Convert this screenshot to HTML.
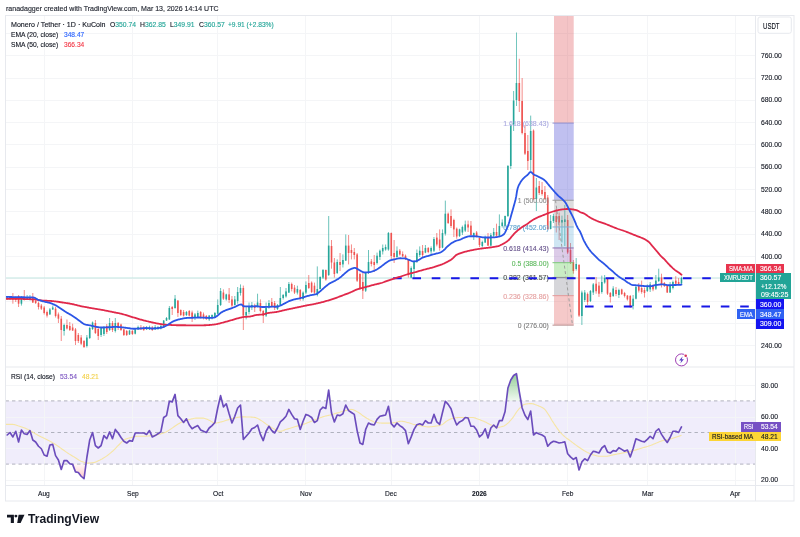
<!DOCTYPE html>
<html><head><meta charset="utf-8"><title>XMRUSDT chart</title>
<style>
html,body{margin:0;padding:0;background:#fff;}
body{width:800px;height:537px;position:relative;overflow:hidden;font-family:"Liberation Sans",sans-serif;}
.t{position:absolute;white-space:nowrap;font-family:"Liberation Sans",sans-serif;transform-origin:0 50%;-webkit-text-stroke:0.14px currentColor;}
.lb{position:absolute;white-space:nowrap;font-size:8px;line-height:9.6px;box-sizing:border-box;overflow:hidden;font-family:"Liberation Sans",sans-serif;}
</style></head><body>
<svg width="800" height="537" viewBox="0 0 800 537" style="position:absolute;left:0;top:0">
<rect x="5.5" y="400.90" width="750.00" height="63.20" fill="#f0edfb"/>
<line x1="44.5" y1="15.5" x2="44.5" y2="485.5" stroke="#f4f5f7" stroke-width="1"/>
<line x1="132.5" y1="15.5" x2="132.5" y2="485.5" stroke="#f4f5f7" stroke-width="1"/>
<line x1="217.5" y1="15.5" x2="217.5" y2="485.5" stroke="#f4f5f7" stroke-width="1"/>
<line x1="305.5" y1="15.5" x2="305.5" y2="485.5" stroke="#f4f5f7" stroke-width="1"/>
<line x1="391.5" y1="15.5" x2="391.5" y2="485.5" stroke="#f4f5f7" stroke-width="1"/>
<line x1="479.5" y1="15.5" x2="479.5" y2="485.5" stroke="#f4f5f7" stroke-width="1"/>
<line x1="567.5" y1="15.5" x2="567.5" y2="485.5" stroke="#f4f5f7" stroke-width="1"/>
<line x1="647.5" y1="15.5" x2="647.5" y2="485.5" stroke="#f4f5f7" stroke-width="1"/>
<line x1="735.5" y1="15.5" x2="735.5" y2="485.5" stroke="#f4f5f7" stroke-width="1"/>
<line x1="5.5" y1="345.5" x2="755.5" y2="345.5" stroke="#f4f5f7" stroke-width="1"/>
<line x1="5.5" y1="323.5" x2="755.5" y2="323.5" stroke="#f4f5f7" stroke-width="1"/>
<line x1="5.5" y1="301.5" x2="755.5" y2="301.5" stroke="#f4f5f7" stroke-width="1"/>
<line x1="5.5" y1="278.5" x2="755.5" y2="278.5" stroke="#f4f5f7" stroke-width="1"/>
<line x1="5.5" y1="256.5" x2="755.5" y2="256.5" stroke="#f4f5f7" stroke-width="1"/>
<line x1="5.5" y1="234.5" x2="755.5" y2="234.5" stroke="#f4f5f7" stroke-width="1"/>
<line x1="5.5" y1="211.5" x2="755.5" y2="211.5" stroke="#f4f5f7" stroke-width="1"/>
<line x1="5.5" y1="189.5" x2="755.5" y2="189.5" stroke="#f4f5f7" stroke-width="1"/>
<line x1="5.5" y1="167.5" x2="755.5" y2="167.5" stroke="#f4f5f7" stroke-width="1"/>
<line x1="5.5" y1="144.5" x2="755.5" y2="144.5" stroke="#f4f5f7" stroke-width="1"/>
<line x1="5.5" y1="122.5" x2="755.5" y2="122.5" stroke="#f4f5f7" stroke-width="1"/>
<line x1="5.5" y1="100.5" x2="755.5" y2="100.5" stroke="#f4f5f7" stroke-width="1"/>
<line x1="5.5" y1="78.5" x2="755.5" y2="78.5" stroke="#f4f5f7" stroke-width="1"/>
<line x1="5.5" y1="55.5" x2="755.5" y2="55.5" stroke="#f4f5f7" stroke-width="1"/>
<line x1="5.5" y1="33.5" x2="755.5" y2="33.5" stroke="#f4f5f7" stroke-width="1"/>
<line x1="5.5" y1="480.5" x2="755.5" y2="480.5" stroke="#f4f5f7" stroke-width="1"/>
<line x1="5.5" y1="448.5" x2="755.5" y2="448.5" stroke="#f4f5f7" stroke-width="1"/>
<line x1="5.5" y1="417.5" x2="755.5" y2="417.5" stroke="#f4f5f7" stroke-width="1"/>
<line x1="5.5" y1="385.5" x2="755.5" y2="385.5" stroke="#f4f5f7" stroke-width="1"/>
<line x1="5.5" y1="277.98" x2="755.5" y2="277.98" stroke="#c3e6e1" stroke-width="1"/>
<line x1="7.20" y1="296.50" x2="7.20" y2="300.00" stroke="#26a69a" stroke-width="0.9" opacity="0.75"/>
<rect x="6.40" y="297.50" width="1.6" height="1.00" fill="#26a69a"/>
<line x1="10.04" y1="296.00" x2="10.04" y2="300.00" stroke="#26a69a" stroke-width="0.9" opacity="0.75"/>
<rect x="9.24" y="297.00" width="1.6" height="2.00" fill="#26a69a"/>
<line x1="12.89" y1="293.00" x2="12.89" y2="303.70" stroke="#ef5350" stroke-width="0.9" opacity="0.75"/>
<rect x="12.09" y="297.50" width="1.6" height="2.00" fill="#ef5350"/>
<line x1="15.73" y1="296.50" x2="15.73" y2="302.00" stroke="#ef5350" stroke-width="0.9" opacity="0.75"/>
<rect x="14.93" y="298.00" width="1.6" height="2.00" fill="#ef5350"/>
<line x1="18.58" y1="295.00" x2="18.58" y2="307.00" stroke="#ef5350" stroke-width="0.9" opacity="0.75"/>
<rect x="17.78" y="296.00" width="1.6" height="7.70" fill="#ef5350"/>
<line x1="21.43" y1="296.00" x2="21.43" y2="305.60" stroke="#26a69a" stroke-width="0.9" opacity="0.75"/>
<rect x="20.62" y="298.70" width="1.6" height="5.00" fill="#26a69a"/>
<line x1="24.27" y1="290.00" x2="24.27" y2="300.50" stroke="#ef5350" stroke-width="0.9" opacity="0.75"/>
<rect x="23.47" y="297.50" width="1.6" height="2.00" fill="#ef5350"/>
<line x1="27.12" y1="295.00" x2="27.12" y2="300.00" stroke="#26a69a" stroke-width="0.9" opacity="0.75"/>
<rect x="26.32" y="297.00" width="1.6" height="2.00" fill="#26a69a"/>
<line x1="29.96" y1="295.00" x2="29.96" y2="300.50" stroke="#26a69a" stroke-width="0.9" opacity="0.75"/>
<rect x="29.16" y="297.00" width="1.6" height="2.00" fill="#26a69a"/>
<line x1="32.80" y1="293.00" x2="32.80" y2="303.00" stroke="#ef5350" stroke-width="0.9" opacity="0.75"/>
<rect x="32.01" y="297.50" width="1.6" height="5.00" fill="#ef5350"/>
<line x1="35.65" y1="300.00" x2="35.65" y2="304.00" stroke="#ef5350" stroke-width="0.9" opacity="0.75"/>
<rect x="34.85" y="301.00" width="1.6" height="2.00" fill="#ef5350"/>
<line x1="38.50" y1="301.50" x2="38.50" y2="309.50" stroke="#ef5350" stroke-width="0.9" opacity="0.75"/>
<rect x="37.70" y="303.00" width="1.6" height="4.00" fill="#ef5350"/>
<line x1="41.34" y1="304.00" x2="41.34" y2="310.00" stroke="#ef5350" stroke-width="0.9" opacity="0.75"/>
<rect x="40.54" y="305.60" width="1.6" height="3.10" fill="#ef5350"/>
<line x1="44.19" y1="306.00" x2="44.19" y2="314.50" stroke="#ef5350" stroke-width="0.9" opacity="0.75"/>
<rect x="43.39" y="307.50" width="1.6" height="5.50" fill="#ef5350"/>
<line x1="47.03" y1="310.50" x2="47.03" y2="317.50" stroke="#ef5350" stroke-width="0.9" opacity="0.75"/>
<rect x="46.23" y="312.00" width="1.6" height="3.60" fill="#ef5350"/>
<line x1="49.88" y1="308.00" x2="49.88" y2="315.00" stroke="#26a69a" stroke-width="0.9" opacity="0.75"/>
<rect x="49.08" y="309.40" width="1.6" height="5.00" fill="#26a69a"/>
<line x1="52.72" y1="305.50" x2="52.72" y2="310.00" stroke="#26a69a" stroke-width="0.9" opacity="0.75"/>
<rect x="51.92" y="307.50" width="1.6" height="1.90" fill="#26a69a"/>
<line x1="55.57" y1="307.00" x2="55.57" y2="317.50" stroke="#ef5350" stroke-width="0.9" opacity="0.75"/>
<rect x="54.77" y="308.70" width="1.6" height="7.30" fill="#ef5350"/>
<line x1="58.41" y1="312.50" x2="58.41" y2="323.00" stroke="#ef5350" stroke-width="0.9" opacity="0.75"/>
<rect x="57.61" y="314.40" width="1.6" height="4.30" fill="#ef5350"/>
<line x1="61.26" y1="316.00" x2="61.26" y2="341.00" stroke="#ef5350" stroke-width="0.9" opacity="0.75"/>
<rect x="60.46" y="318.70" width="1.6" height="11.30" fill="#ef5350"/>
<line x1="64.10" y1="323.70" x2="64.10" y2="335.60" stroke="#26a69a" stroke-width="0.9" opacity="0.75"/>
<rect x="63.30" y="325.00" width="1.6" height="6.00" fill="#26a69a"/>
<line x1="66.95" y1="319.50" x2="66.95" y2="329.50" stroke="#ef5350" stroke-width="0.9" opacity="0.75"/>
<rect x="66.15" y="325.00" width="1.6" height="3.50" fill="#ef5350"/>
<line x1="69.79" y1="322.00" x2="69.79" y2="331.00" stroke="#ef5350" stroke-width="0.9" opacity="0.75"/>
<rect x="68.99" y="326.00" width="1.6" height="4.00" fill="#ef5350"/>
<line x1="72.64" y1="323.70" x2="72.64" y2="331.00" stroke="#ef5350" stroke-width="0.9" opacity="0.75"/>
<rect x="71.84" y="327.50" width="1.6" height="3.00" fill="#ef5350"/>
<line x1="75.48" y1="328.00" x2="75.48" y2="345.00" stroke="#ef5350" stroke-width="0.9" opacity="0.75"/>
<rect x="74.68" y="329.40" width="1.6" height="11.60" fill="#ef5350"/>
<line x1="78.33" y1="333.00" x2="78.33" y2="343.00" stroke="#ef5350" stroke-width="0.9" opacity="0.75"/>
<rect x="77.53" y="335.00" width="1.6" height="6.00" fill="#ef5350"/>
<line x1="81.17" y1="335.00" x2="81.17" y2="345.00" stroke="#ef5350" stroke-width="0.9" opacity="0.75"/>
<rect x="80.37" y="337.50" width="1.6" height="6.20" fill="#ef5350"/>
<line x1="84.02" y1="340.00" x2="84.02" y2="348.00" stroke="#ef5350" stroke-width="0.9" opacity="0.75"/>
<rect x="83.22" y="341.00" width="1.6" height="6.00" fill="#ef5350"/>
<line x1="86.86" y1="335.00" x2="86.86" y2="347.50" stroke="#26a69a" stroke-width="0.9" opacity="0.75"/>
<rect x="86.06" y="337.50" width="1.6" height="8.50" fill="#26a69a"/>
<line x1="89.71" y1="327.00" x2="89.71" y2="339.00" stroke="#26a69a" stroke-width="0.9" opacity="0.75"/>
<rect x="88.91" y="328.00" width="1.6" height="10.00" fill="#26a69a"/>
<line x1="92.55" y1="321.50" x2="92.55" y2="330.00" stroke="#26a69a" stroke-width="0.9" opacity="0.75"/>
<rect x="91.75" y="322.50" width="1.6" height="6.50" fill="#26a69a"/>
<line x1="95.40" y1="320.00" x2="95.40" y2="334.00" stroke="#ef5350" stroke-width="0.9" opacity="0.75"/>
<rect x="94.60" y="323.00" width="1.6" height="10.00" fill="#ef5350"/>
<line x1="98.24" y1="327.00" x2="98.24" y2="340.00" stroke="#ef5350" stroke-width="0.9" opacity="0.75"/>
<rect x="97.44" y="329.00" width="1.6" height="7.00" fill="#ef5350"/>
<line x1="101.09" y1="327.00" x2="101.09" y2="337.00" stroke="#26a69a" stroke-width="0.9" opacity="0.75"/>
<rect x="100.29" y="328.00" width="1.6" height="7.00" fill="#26a69a"/>
<line x1="103.93" y1="326.00" x2="103.93" y2="336.00" stroke="#26a69a" stroke-width="0.9" opacity="0.75"/>
<rect x="103.13" y="327.00" width="1.6" height="7.00" fill="#26a69a"/>
<line x1="106.78" y1="324.00" x2="106.78" y2="334.00" stroke="#ef5350" stroke-width="0.9" opacity="0.75"/>
<rect x="105.98" y="326.00" width="1.6" height="6.00" fill="#ef5350"/>
<line x1="109.62" y1="318.00" x2="109.62" y2="331.00" stroke="#26a69a" stroke-width="0.9" opacity="0.75"/>
<rect x="108.82" y="323.00" width="1.6" height="7.00" fill="#26a69a"/>
<line x1="112.47" y1="321.00" x2="112.47" y2="332.00" stroke="#ef5350" stroke-width="0.9" opacity="0.75"/>
<rect x="111.67" y="323.00" width="1.6" height="7.00" fill="#ef5350"/>
<line x1="115.31" y1="318.00" x2="115.31" y2="332.50" stroke="#26a69a" stroke-width="0.9" opacity="0.75"/>
<rect x="114.51" y="323.00" width="1.6" height="8.00" fill="#26a69a"/>
<line x1="118.16" y1="322.00" x2="118.16" y2="330.00" stroke="#ef5350" stroke-width="0.9" opacity="0.75"/>
<rect x="117.36" y="323.00" width="1.6" height="5.00" fill="#ef5350"/>
<line x1="121.00" y1="323.70" x2="121.00" y2="331.00" stroke="#ef5350" stroke-width="0.9" opacity="0.75"/>
<rect x="120.20" y="324.50" width="1.6" height="5.50" fill="#ef5350"/>
<line x1="123.85" y1="328.70" x2="123.85" y2="336.00" stroke="#ef5350" stroke-width="0.9" opacity="0.75"/>
<rect x="123.05" y="329.40" width="1.6" height="5.60" fill="#ef5350"/>
<line x1="126.69" y1="330.00" x2="126.69" y2="336.00" stroke="#ef5350" stroke-width="0.9" opacity="0.75"/>
<rect x="125.89" y="331.00" width="1.6" height="4.00" fill="#ef5350"/>
<line x1="129.53" y1="330.00" x2="129.53" y2="335.00" stroke="#26a69a" stroke-width="0.9" opacity="0.75"/>
<rect x="128.73" y="330.60" width="1.6" height="3.80" fill="#26a69a"/>
<line x1="132.38" y1="330.00" x2="132.38" y2="335.00" stroke="#ef5350" stroke-width="0.9" opacity="0.75"/>
<rect x="131.58" y="331.00" width="1.6" height="3.00" fill="#ef5350"/>
<line x1="135.22" y1="328.00" x2="135.22" y2="334.40" stroke="#26a69a" stroke-width="0.9" opacity="0.75"/>
<rect x="134.42" y="329.40" width="1.6" height="4.30" fill="#26a69a"/>
<line x1="138.07" y1="325.60" x2="138.07" y2="330.00" stroke="#26a69a" stroke-width="0.9" opacity="0.75"/>
<rect x="137.27" y="327.00" width="1.6" height="2.40" fill="#26a69a"/>
<line x1="140.91" y1="325.00" x2="140.91" y2="330.00" stroke="#ef5350" stroke-width="0.9" opacity="0.75"/>
<rect x="140.11" y="327.50" width="1.6" height="1.90" fill="#ef5350"/>
<line x1="143.76" y1="326.00" x2="143.76" y2="331.00" stroke="#ef5350" stroke-width="0.9" opacity="0.75"/>
<rect x="142.96" y="327.50" width="1.6" height="2.50" fill="#ef5350"/>
<line x1="146.60" y1="326.00" x2="146.60" y2="330.00" stroke="#26a69a" stroke-width="0.9" opacity="0.75"/>
<rect x="145.80" y="327.50" width="1.6" height="1.90" fill="#26a69a"/>
<line x1="149.45" y1="325.60" x2="149.45" y2="330.00" stroke="#26a69a" stroke-width="0.9" opacity="0.75"/>
<rect x="148.65" y="327.00" width="1.6" height="2.40" fill="#26a69a"/>
<line x1="152.29" y1="326.00" x2="152.29" y2="331.00" stroke="#ef5350" stroke-width="0.9" opacity="0.75"/>
<rect x="151.49" y="327.50" width="1.6" height="2.50" fill="#ef5350"/>
<line x1="155.14" y1="325.00" x2="155.14" y2="330.00" stroke="#26a69a" stroke-width="0.9" opacity="0.75"/>
<rect x="154.34" y="327.00" width="1.6" height="2.40" fill="#26a69a"/>
<line x1="157.98" y1="326.00" x2="157.98" y2="330.00" stroke="#26a69a" stroke-width="0.9" opacity="0.75"/>
<rect x="157.18" y="327.00" width="1.6" height="1.70" fill="#26a69a"/>
<line x1="160.83" y1="324.40" x2="160.83" y2="329.40" stroke="#26a69a" stroke-width="0.9" opacity="0.75"/>
<rect x="160.03" y="326.00" width="1.6" height="2.50" fill="#26a69a"/>
<line x1="163.68" y1="320.00" x2="163.68" y2="328.00" stroke="#26a69a" stroke-width="0.9" opacity="0.75"/>
<rect x="162.88" y="320.60" width="1.6" height="6.90" fill="#26a69a"/>
<line x1="166.52" y1="317.00" x2="166.52" y2="321.00" stroke="#26a69a" stroke-width="0.9" opacity="0.75"/>
<rect x="165.72" y="318.00" width="1.6" height="2.60" fill="#26a69a"/>
<line x1="169.37" y1="306.00" x2="169.37" y2="320.00" stroke="#26a69a" stroke-width="0.9" opacity="0.75"/>
<rect x="168.56" y="308.00" width="1.6" height="11.40" fill="#26a69a"/>
<line x1="172.21" y1="306.00" x2="172.21" y2="315.00" stroke="#ef5350" stroke-width="0.9" opacity="0.75"/>
<rect x="171.41" y="307.00" width="1.6" height="2.00" fill="#ef5350"/>
<line x1="175.06" y1="295.00" x2="175.06" y2="308.70" stroke="#26a69a" stroke-width="0.9" opacity="0.75"/>
<rect x="174.25" y="298.70" width="1.6" height="9.30" fill="#26a69a"/>
<line x1="177.90" y1="300.00" x2="177.90" y2="317.00" stroke="#ef5350" stroke-width="0.9" opacity="0.75"/>
<rect x="177.10" y="300.60" width="1.6" height="12.40" fill="#ef5350"/>
<line x1="180.75" y1="309.40" x2="180.75" y2="316.00" stroke="#ef5350" stroke-width="0.9" opacity="0.75"/>
<rect x="179.94" y="310.00" width="1.6" height="5.00" fill="#ef5350"/>
<line x1="183.59" y1="310.00" x2="183.59" y2="316.50" stroke="#ef5350" stroke-width="0.9" opacity="0.75"/>
<rect x="182.79" y="312.00" width="1.6" height="3.60" fill="#ef5350"/>
<line x1="186.44" y1="311.00" x2="186.44" y2="316.00" stroke="#26a69a" stroke-width="0.9" opacity="0.75"/>
<rect x="185.63" y="312.00" width="1.6" height="3.00" fill="#26a69a"/>
<line x1="189.28" y1="310.00" x2="189.28" y2="316.50" stroke="#ef5350" stroke-width="0.9" opacity="0.75"/>
<rect x="188.48" y="311.00" width="1.6" height="4.60" fill="#ef5350"/>
<line x1="192.12" y1="310.60" x2="192.12" y2="322.00" stroke="#ef5350" stroke-width="0.9" opacity="0.75"/>
<rect x="191.32" y="312.50" width="1.6" height="5.50" fill="#ef5350"/>
<line x1="194.97" y1="313.00" x2="194.97" y2="320.00" stroke="#26a69a" stroke-width="0.9" opacity="0.75"/>
<rect x="194.17" y="314.40" width="1.6" height="3.60" fill="#26a69a"/>
<line x1="197.81" y1="310.60" x2="197.81" y2="318.00" stroke="#26a69a" stroke-width="0.9" opacity="0.75"/>
<rect x="197.01" y="313.00" width="1.6" height="4.00" fill="#26a69a"/>
<line x1="200.66" y1="311.00" x2="200.66" y2="318.50" stroke="#ef5350" stroke-width="0.9" opacity="0.75"/>
<rect x="199.86" y="312.00" width="1.6" height="5.50" fill="#ef5350"/>
<line x1="203.50" y1="312.50" x2="203.50" y2="319.40" stroke="#ef5350" stroke-width="0.9" opacity="0.75"/>
<rect x="202.70" y="314.40" width="1.6" height="3.60" fill="#ef5350"/>
<line x1="206.35" y1="315.00" x2="206.35" y2="320.00" stroke="#ef5350" stroke-width="0.9" opacity="0.75"/>
<rect x="205.55" y="316.00" width="1.6" height="2.70" fill="#ef5350"/>
<line x1="209.19" y1="315.00" x2="209.19" y2="321.00" stroke="#26a69a" stroke-width="0.9" opacity="0.75"/>
<rect x="208.39" y="315.60" width="1.6" height="3.80" fill="#26a69a"/>
<line x1="212.04" y1="314.40" x2="212.04" y2="319.40" stroke="#26a69a" stroke-width="0.9" opacity="0.75"/>
<rect x="211.24" y="315.00" width="1.6" height="3.00" fill="#26a69a"/>
<line x1="214.88" y1="312.00" x2="214.88" y2="317.50" stroke="#26a69a" stroke-width="0.9" opacity="0.75"/>
<rect x="214.08" y="313.00" width="1.6" height="4.00" fill="#26a69a"/>
<line x1="217.73" y1="299.40" x2="217.73" y2="314.40" stroke="#26a69a" stroke-width="0.9" opacity="0.75"/>
<rect x="216.93" y="305.00" width="1.6" height="8.70" fill="#26a69a"/>
<line x1="220.58" y1="288.00" x2="220.58" y2="306.00" stroke="#26a69a" stroke-width="0.9" opacity="0.75"/>
<rect x="219.78" y="291.00" width="1.6" height="14.00" fill="#26a69a"/>
<line x1="223.42" y1="289.40" x2="223.42" y2="300.00" stroke="#ef5350" stroke-width="0.9" opacity="0.75"/>
<rect x="222.62" y="292.50" width="1.6" height="6.20" fill="#ef5350"/>
<line x1="226.27" y1="293.70" x2="226.27" y2="300.60" stroke="#26a69a" stroke-width="0.9" opacity="0.75"/>
<rect x="225.47" y="294.40" width="1.6" height="5.00" fill="#26a69a"/>
<line x1="229.11" y1="288.00" x2="229.11" y2="303.00" stroke="#ef5350" stroke-width="0.9" opacity="0.75"/>
<rect x="228.31" y="294.40" width="1.6" height="5.60" fill="#ef5350"/>
<line x1="231.96" y1="296.00" x2="231.96" y2="307.00" stroke="#ef5350" stroke-width="0.9" opacity="0.75"/>
<rect x="231.16" y="299.40" width="1.6" height="6.20" fill="#ef5350"/>
<line x1="234.80" y1="296.00" x2="234.80" y2="305.60" stroke="#26a69a" stroke-width="0.9" opacity="0.75"/>
<rect x="234.00" y="299.40" width="1.6" height="5.60" fill="#26a69a"/>
<line x1="237.65" y1="287.00" x2="237.65" y2="303.70" stroke="#26a69a" stroke-width="0.9" opacity="0.75"/>
<rect x="236.84" y="292.00" width="1.6" height="9.00" fill="#26a69a"/>
<line x1="240.49" y1="284.40" x2="240.49" y2="295.60" stroke="#26a69a" stroke-width="0.9" opacity="0.75"/>
<rect x="239.69" y="288.00" width="1.6" height="5.00" fill="#26a69a"/>
<line x1="243.34" y1="285.60" x2="243.34" y2="330.00" stroke="#ef5350" stroke-width="0.9" opacity="0.75"/>
<rect x="242.53" y="288.00" width="1.6" height="27.60" fill="#ef5350"/>
<line x1="246.18" y1="306.00" x2="246.18" y2="319.40" stroke="#26a69a" stroke-width="0.9" opacity="0.75"/>
<rect x="245.38" y="312.00" width="1.6" height="3.60" fill="#26a69a"/>
<line x1="249.03" y1="302.50" x2="249.03" y2="314.40" stroke="#26a69a" stroke-width="0.9" opacity="0.75"/>
<rect x="248.22" y="306.00" width="1.6" height="6.00" fill="#26a69a"/>
<line x1="251.87" y1="302.00" x2="251.87" y2="310.00" stroke="#26a69a" stroke-width="0.9" opacity="0.75"/>
<rect x="251.07" y="305.00" width="1.6" height="2.50" fill="#26a69a"/>
<line x1="254.72" y1="303.70" x2="254.72" y2="312.00" stroke="#ef5350" stroke-width="0.9" opacity="0.75"/>
<rect x="253.91" y="305.60" width="1.6" height="2.40" fill="#ef5350"/>
<line x1="257.56" y1="293.70" x2="257.56" y2="307.50" stroke="#26a69a" stroke-width="0.9" opacity="0.75"/>
<rect x="256.76" y="302.50" width="1.6" height="3.50" fill="#26a69a"/>
<line x1="260.41" y1="299.40" x2="260.41" y2="312.50" stroke="#ef5350" stroke-width="0.9" opacity="0.75"/>
<rect x="259.61" y="303.00" width="1.6" height="8.00" fill="#ef5350"/>
<line x1="263.25" y1="310.00" x2="263.25" y2="323.00" stroke="#ef5350" stroke-width="0.9" opacity="0.75"/>
<rect x="262.45" y="311.00" width="1.6" height="5.00" fill="#ef5350"/>
<line x1="266.10" y1="302.50" x2="266.10" y2="317.00" stroke="#26a69a" stroke-width="0.9" opacity="0.75"/>
<rect x="265.30" y="307.50" width="1.6" height="8.10" fill="#26a69a"/>
<line x1="268.94" y1="300.00" x2="268.94" y2="308.70" stroke="#26a69a" stroke-width="0.9" opacity="0.75"/>
<rect x="268.14" y="303.00" width="1.6" height="4.50" fill="#26a69a"/>
<line x1="271.79" y1="298.00" x2="271.79" y2="307.50" stroke="#ef5350" stroke-width="0.9" opacity="0.75"/>
<rect x="270.99" y="302.00" width="1.6" height="4.00" fill="#ef5350"/>
<line x1="274.63" y1="301.00" x2="274.63" y2="310.00" stroke="#ef5350" stroke-width="0.9" opacity="0.75"/>
<rect x="273.83" y="303.00" width="1.6" height="5.00" fill="#ef5350"/>
<line x1="277.48" y1="304.00" x2="277.48" y2="310.00" stroke="#26a69a" stroke-width="0.9" opacity="0.75"/>
<rect x="276.68" y="305.00" width="1.6" height="4.00" fill="#26a69a"/>
<line x1="280.32" y1="287.00" x2="280.32" y2="306.00" stroke="#26a69a" stroke-width="0.9" opacity="0.75"/>
<rect x="279.52" y="298.00" width="1.6" height="7.00" fill="#26a69a"/>
<line x1="283.17" y1="294.00" x2="283.17" y2="299.50" stroke="#26a69a" stroke-width="0.9" opacity="0.75"/>
<rect x="282.37" y="295.00" width="1.6" height="3.00" fill="#26a69a"/>
<line x1="286.01" y1="288.00" x2="286.01" y2="297.60" stroke="#26a69a" stroke-width="0.9" opacity="0.75"/>
<rect x="285.21" y="291.40" width="1.6" height="5.00" fill="#26a69a"/>
<line x1="288.86" y1="282.00" x2="288.86" y2="293.00" stroke="#26a69a" stroke-width="0.9" opacity="0.75"/>
<rect x="288.06" y="284.00" width="1.6" height="8.60" fill="#26a69a"/>
<line x1="291.70" y1="282.60" x2="291.70" y2="291.40" stroke="#ef5350" stroke-width="0.9" opacity="0.75"/>
<rect x="290.90" y="284.00" width="1.6" height="5.00" fill="#ef5350"/>
<line x1="294.55" y1="285.00" x2="294.55" y2="294.00" stroke="#ef5350" stroke-width="0.9" opacity="0.75"/>
<rect x="293.75" y="287.60" width="1.6" height="5.00" fill="#ef5350"/>
<line x1="297.39" y1="285.70" x2="297.39" y2="294.50" stroke="#26a69a" stroke-width="0.9" opacity="0.75"/>
<rect x="296.59" y="289.00" width="1.6" height="3.60" fill="#26a69a"/>
<line x1="300.24" y1="289.00" x2="300.24" y2="300.70" stroke="#ef5350" stroke-width="0.9" opacity="0.75"/>
<rect x="299.44" y="290.00" width="1.6" height="9.00" fill="#ef5350"/>
<line x1="303.08" y1="291.40" x2="303.08" y2="300.70" stroke="#26a69a" stroke-width="0.9" opacity="0.75"/>
<rect x="302.28" y="292.60" width="1.6" height="6.40" fill="#26a69a"/>
<line x1="305.93" y1="281.40" x2="305.93" y2="294.00" stroke="#26a69a" stroke-width="0.9" opacity="0.75"/>
<rect x="305.12" y="285.00" width="1.6" height="7.60" fill="#26a69a"/>
<line x1="308.77" y1="275.00" x2="308.77" y2="289.00" stroke="#ef5350" stroke-width="0.9" opacity="0.75"/>
<rect x="307.97" y="283.00" width="1.6" height="5.00" fill="#ef5350"/>
<line x1="311.62" y1="281.40" x2="311.62" y2="293.00" stroke="#ef5350" stroke-width="0.9" opacity="0.75"/>
<rect x="310.81" y="282.60" width="1.6" height="9.40" fill="#ef5350"/>
<line x1="314.46" y1="282.60" x2="314.46" y2="295.00" stroke="#ef5350" stroke-width="0.9" opacity="0.75"/>
<rect x="313.66" y="285.70" width="1.6" height="6.90" fill="#ef5350"/>
<line x1="317.31" y1="266.40" x2="317.31" y2="296.40" stroke="#26a69a" stroke-width="0.9" opacity="0.75"/>
<rect x="316.50" y="289.00" width="1.6" height="6.00" fill="#26a69a"/>
<line x1="320.15" y1="276.40" x2="320.15" y2="289.50" stroke="#26a69a" stroke-width="0.9" opacity="0.75"/>
<rect x="319.35" y="277.00" width="1.6" height="12.00" fill="#26a69a"/>
<line x1="323.00" y1="269.00" x2="323.00" y2="279.00" stroke="#26a69a" stroke-width="0.9" opacity="0.75"/>
<rect x="322.19" y="270.00" width="1.6" height="7.60" fill="#26a69a"/>
<line x1="325.84" y1="269.50" x2="325.84" y2="280.70" stroke="#ef5350" stroke-width="0.9" opacity="0.75"/>
<rect x="325.04" y="270.00" width="1.6" height="9.50" fill="#ef5350"/>
<line x1="328.69" y1="216.00" x2="328.69" y2="276.00" stroke="#26a69a" stroke-width="0.9" opacity="0.75"/>
<rect x="327.88" y="245.60" width="1.6" height="29.40" fill="#26a69a"/>
<line x1="331.53" y1="240.00" x2="331.53" y2="268.70" stroke="#ef5350" stroke-width="0.9" opacity="0.75"/>
<rect x="330.73" y="246.00" width="1.6" height="16.50" fill="#ef5350"/>
<line x1="334.38" y1="258.00" x2="334.38" y2="277.60" stroke="#ef5350" stroke-width="0.9" opacity="0.75"/>
<rect x="333.57" y="262.50" width="1.6" height="11.50" fill="#ef5350"/>
<line x1="337.22" y1="259.40" x2="337.22" y2="274.00" stroke="#26a69a" stroke-width="0.9" opacity="0.75"/>
<rect x="336.42" y="262.00" width="1.6" height="11.00" fill="#26a69a"/>
<line x1="340.06" y1="253.00" x2="340.06" y2="271.00" stroke="#ef5350" stroke-width="0.9" opacity="0.75"/>
<rect x="339.26" y="262.00" width="1.6" height="3.00" fill="#ef5350"/>
<line x1="342.91" y1="254.40" x2="342.91" y2="267.50" stroke="#26a69a" stroke-width="0.9" opacity="0.75"/>
<rect x="342.11" y="260.00" width="1.6" height="4.40" fill="#26a69a"/>
<line x1="345.75" y1="234.40" x2="345.75" y2="261.00" stroke="#26a69a" stroke-width="0.9" opacity="0.75"/>
<rect x="344.95" y="245.60" width="1.6" height="15.00" fill="#26a69a"/>
<line x1="348.60" y1="235.00" x2="348.60" y2="264.40" stroke="#ef5350" stroke-width="0.9" opacity="0.75"/>
<rect x="347.80" y="245.60" width="1.6" height="7.40" fill="#ef5350"/>
<line x1="351.44" y1="244.40" x2="351.44" y2="259.40" stroke="#ef5350" stroke-width="0.9" opacity="0.75"/>
<rect x="350.64" y="250.00" width="1.6" height="3.00" fill="#ef5350"/>
<line x1="354.29" y1="248.00" x2="354.29" y2="259.40" stroke="#ef5350" stroke-width="0.9" opacity="0.75"/>
<rect x="353.49" y="252.00" width="1.6" height="3.00" fill="#ef5350"/>
<line x1="357.13" y1="253.00" x2="357.13" y2="282.00" stroke="#ef5350" stroke-width="0.9" opacity="0.75"/>
<rect x="356.33" y="254.40" width="1.6" height="26.30" fill="#ef5350"/>
<line x1="359.98" y1="272.60" x2="359.98" y2="290.00" stroke="#ef5350" stroke-width="0.9" opacity="0.75"/>
<rect x="359.18" y="274.00" width="1.6" height="15.00" fill="#ef5350"/>
<line x1="362.82" y1="273.00" x2="362.82" y2="299.00" stroke="#ef5350" stroke-width="0.9" opacity="0.75"/>
<rect x="362.02" y="282.00" width="1.6" height="8.70" fill="#ef5350"/>
<line x1="365.67" y1="272.00" x2="365.67" y2="292.00" stroke="#26a69a" stroke-width="0.9" opacity="0.75"/>
<rect x="364.87" y="273.00" width="1.6" height="17.70" fill="#26a69a"/>
<line x1="368.51" y1="250.00" x2="368.51" y2="274.00" stroke="#26a69a" stroke-width="0.9" opacity="0.75"/>
<rect x="367.71" y="262.00" width="1.6" height="10.60" fill="#26a69a"/>
<line x1="371.36" y1="259.00" x2="371.36" y2="266.40" stroke="#ef5350" stroke-width="0.9" opacity="0.75"/>
<rect x="370.56" y="261.40" width="1.6" height="2.60" fill="#ef5350"/>
<line x1="374.21" y1="255.00" x2="374.21" y2="272.00" stroke="#ef5350" stroke-width="0.9" opacity="0.75"/>
<rect x="373.41" y="262.00" width="1.6" height="3.00" fill="#ef5350"/>
<line x1="377.05" y1="252.60" x2="377.05" y2="264.50" stroke="#26a69a" stroke-width="0.9" opacity="0.75"/>
<rect x="376.25" y="255.70" width="1.6" height="7.30" fill="#26a69a"/>
<line x1="379.90" y1="249.50" x2="379.90" y2="260.00" stroke="#26a69a" stroke-width="0.9" opacity="0.75"/>
<rect x="379.10" y="250.70" width="1.6" height="6.30" fill="#26a69a"/>
<line x1="382.74" y1="244.50" x2="382.74" y2="254.50" stroke="#26a69a" stroke-width="0.9" opacity="0.75"/>
<rect x="381.94" y="248.00" width="1.6" height="3.40" fill="#26a69a"/>
<line x1="385.59" y1="244.50" x2="385.59" y2="250.70" stroke="#26a69a" stroke-width="0.9" opacity="0.75"/>
<rect x="384.79" y="247.00" width="1.6" height="2.50" fill="#26a69a"/>
<line x1="388.43" y1="232.00" x2="388.43" y2="250.70" stroke="#26a69a" stroke-width="0.9" opacity="0.75"/>
<rect x="387.63" y="233.00" width="1.6" height="16.50" fill="#26a69a"/>
<line x1="391.28" y1="232.50" x2="391.28" y2="259.00" stroke="#ef5350" stroke-width="0.9" opacity="0.75"/>
<rect x="390.48" y="233.00" width="1.6" height="23.00" fill="#ef5350"/>
<line x1="394.12" y1="240.00" x2="394.12" y2="263.00" stroke="#ef5350" stroke-width="0.9" opacity="0.75"/>
<rect x="393.32" y="253.00" width="1.6" height="4.00" fill="#ef5350"/>
<line x1="396.97" y1="246.40" x2="396.97" y2="257.60" stroke="#26a69a" stroke-width="0.9" opacity="0.75"/>
<rect x="396.17" y="250.70" width="1.6" height="6.30" fill="#26a69a"/>
<line x1="399.81" y1="249.00" x2="399.81" y2="255.70" stroke="#ef5350" stroke-width="0.9" opacity="0.75"/>
<rect x="399.01" y="250.70" width="1.6" height="3.80" fill="#ef5350"/>
<line x1="402.66" y1="251.40" x2="402.66" y2="257.00" stroke="#ef5350" stroke-width="0.9" opacity="0.75"/>
<rect x="401.86" y="254.00" width="1.6" height="2.40" fill="#ef5350"/>
<line x1="405.50" y1="254.50" x2="405.50" y2="260.00" stroke="#ef5350" stroke-width="0.9" opacity="0.75"/>
<rect x="404.70" y="255.70" width="1.6" height="3.30" fill="#ef5350"/>
<line x1="408.35" y1="259.00" x2="408.35" y2="277.60" stroke="#ef5350" stroke-width="0.9" opacity="0.75"/>
<rect x="407.55" y="260.00" width="1.6" height="14.50" fill="#ef5350"/>
<line x1="411.19" y1="266.40" x2="411.19" y2="278.20" stroke="#26a69a" stroke-width="0.9" opacity="0.75"/>
<rect x="410.39" y="268.00" width="1.6" height="9.60" fill="#26a69a"/>
<line x1="414.04" y1="260.70" x2="414.04" y2="277.50" stroke="#26a69a" stroke-width="0.9" opacity="0.75"/>
<rect x="413.24" y="262.00" width="1.6" height="7.00" fill="#26a69a"/>
<line x1="416.88" y1="249.50" x2="416.88" y2="263.00" stroke="#26a69a" stroke-width="0.9" opacity="0.75"/>
<rect x="416.08" y="253.00" width="1.6" height="9.00" fill="#26a69a"/>
<line x1="419.73" y1="246.40" x2="419.73" y2="257.00" stroke="#26a69a" stroke-width="0.9" opacity="0.75"/>
<rect x="418.93" y="250.70" width="1.6" height="4.30" fill="#26a69a"/>
<line x1="422.57" y1="245.00" x2="422.57" y2="257.00" stroke="#ef5350" stroke-width="0.9" opacity="0.75"/>
<rect x="421.77" y="251.00" width="1.6" height="4.00" fill="#ef5350"/>
<line x1="425.42" y1="245.00" x2="425.42" y2="253.20" stroke="#26a69a" stroke-width="0.9" opacity="0.75"/>
<rect x="424.62" y="248.00" width="1.6" height="4.60" fill="#26a69a"/>
<line x1="428.26" y1="247.00" x2="428.26" y2="253.20" stroke="#ef5350" stroke-width="0.9" opacity="0.75"/>
<rect x="427.46" y="248.00" width="1.6" height="4.00" fill="#ef5350"/>
<line x1="431.11" y1="246.40" x2="431.11" y2="255.00" stroke="#26a69a" stroke-width="0.9" opacity="0.75"/>
<rect x="430.31" y="248.00" width="1.6" height="3.40" fill="#26a69a"/>
<line x1="433.95" y1="237.00" x2="433.95" y2="252.00" stroke="#26a69a" stroke-width="0.9" opacity="0.75"/>
<rect x="433.15" y="239.00" width="1.6" height="11.70" fill="#26a69a"/>
<line x1="436.80" y1="233.00" x2="436.80" y2="246.40" stroke="#ef5350" stroke-width="0.9" opacity="0.75"/>
<rect x="436.00" y="237.60" width="1.6" height="6.90" fill="#ef5350"/>
<line x1="439.64" y1="229.40" x2="439.64" y2="250.70" stroke="#ef5350" stroke-width="0.9" opacity="0.75"/>
<rect x="438.84" y="239.50" width="1.6" height="8.50" fill="#ef5350"/>
<line x1="442.49" y1="229.40" x2="442.49" y2="248.20" stroke="#26a69a" stroke-width="0.9" opacity="0.75"/>
<rect x="441.69" y="233.00" width="1.6" height="14.60" fill="#26a69a"/>
<line x1="445.33" y1="200.60" x2="445.33" y2="235.60" stroke="#26a69a" stroke-width="0.9" opacity="0.75"/>
<rect x="444.53" y="213.70" width="1.6" height="20.00" fill="#26a69a"/>
<line x1="448.18" y1="212.50" x2="448.18" y2="224.00" stroke="#ef5350" stroke-width="0.9" opacity="0.75"/>
<rect x="447.38" y="213.70" width="1.6" height="9.30" fill="#ef5350"/>
<line x1="451.02" y1="209.40" x2="451.02" y2="228.00" stroke="#ef5350" stroke-width="0.9" opacity="0.75"/>
<rect x="450.22" y="216.00" width="1.6" height="10.00" fill="#ef5350"/>
<line x1="453.87" y1="218.70" x2="453.87" y2="237.00" stroke="#ef5350" stroke-width="0.9" opacity="0.75"/>
<rect x="453.06" y="220.00" width="1.6" height="9.40" fill="#ef5350"/>
<line x1="456.71" y1="227.50" x2="456.71" y2="238.70" stroke="#ef5350" stroke-width="0.9" opacity="0.75"/>
<rect x="455.91" y="228.70" width="1.6" height="7.80" fill="#ef5350"/>
<line x1="459.56" y1="228.70" x2="459.56" y2="237.00" stroke="#26a69a" stroke-width="0.9" opacity="0.75"/>
<rect x="458.75" y="229.40" width="1.6" height="6.60" fill="#26a69a"/>
<line x1="462.40" y1="225.60" x2="462.40" y2="235.00" stroke="#26a69a" stroke-width="0.9" opacity="0.75"/>
<rect x="461.60" y="227.00" width="1.6" height="5.50" fill="#26a69a"/>
<line x1="465.25" y1="220.60" x2="465.25" y2="232.00" stroke="#26a69a" stroke-width="0.9" opacity="0.75"/>
<rect x="464.44" y="224.40" width="1.6" height="6.20" fill="#26a69a"/>
<line x1="468.09" y1="220.60" x2="468.09" y2="232.00" stroke="#ef5350" stroke-width="0.9" opacity="0.75"/>
<rect x="467.29" y="224.40" width="1.6" height="3.10" fill="#ef5350"/>
<line x1="470.94" y1="221.00" x2="470.94" y2="235.60" stroke="#ef5350" stroke-width="0.9" opacity="0.75"/>
<rect x="470.13" y="225.60" width="1.6" height="9.40" fill="#ef5350"/>
<line x1="473.78" y1="232.50" x2="473.78" y2="240.00" stroke="#26a69a" stroke-width="0.9" opacity="0.75"/>
<rect x="472.98" y="233.00" width="1.6" height="2.60" fill="#26a69a"/>
<line x1="476.62" y1="231.00" x2="476.62" y2="237.50" stroke="#ef5350" stroke-width="0.9" opacity="0.75"/>
<rect x="475.82" y="232.50" width="1.6" height="3.50" fill="#ef5350"/>
<line x1="479.47" y1="237.50" x2="479.47" y2="247.00" stroke="#ef5350" stroke-width="0.9" opacity="0.75"/>
<rect x="478.67" y="238.00" width="1.6" height="7.00" fill="#ef5350"/>
<line x1="482.31" y1="240.60" x2="482.31" y2="247.50" stroke="#26a69a" stroke-width="0.9" opacity="0.75"/>
<rect x="481.51" y="242.00" width="1.6" height="4.00" fill="#26a69a"/>
<line x1="485.16" y1="235.60" x2="485.16" y2="243.00" stroke="#26a69a" stroke-width="0.9" opacity="0.75"/>
<rect x="484.36" y="237.00" width="1.6" height="5.50" fill="#26a69a"/>
<line x1="488.00" y1="233.00" x2="488.00" y2="246.00" stroke="#ef5350" stroke-width="0.9" opacity="0.75"/>
<rect x="487.20" y="237.50" width="1.6" height="8.10" fill="#ef5350"/>
<line x1="490.85" y1="233.00" x2="490.85" y2="246.20" stroke="#26a69a" stroke-width="0.9" opacity="0.75"/>
<rect x="490.05" y="235.00" width="1.6" height="10.60" fill="#26a69a"/>
<line x1="493.70" y1="228.00" x2="493.70" y2="237.00" stroke="#26a69a" stroke-width="0.9" opacity="0.75"/>
<rect x="492.90" y="232.00" width="1.6" height="3.60" fill="#26a69a"/>
<line x1="496.54" y1="223.70" x2="496.54" y2="237.00" stroke="#ef5350" stroke-width="0.9" opacity="0.75"/>
<rect x="495.74" y="232.00" width="1.6" height="3.60" fill="#ef5350"/>
<line x1="499.39" y1="214.40" x2="499.39" y2="236.00" stroke="#26a69a" stroke-width="0.9" opacity="0.75"/>
<rect x="498.59" y="226.00" width="1.6" height="9.60" fill="#26a69a"/>
<line x1="502.23" y1="219.40" x2="502.23" y2="227.50" stroke="#26a69a" stroke-width="0.9" opacity="0.75"/>
<rect x="501.43" y="222.50" width="1.6" height="3.50" fill="#26a69a"/>
<line x1="505.08" y1="215.60" x2="505.08" y2="227.50" stroke="#26a69a" stroke-width="0.9" opacity="0.75"/>
<rect x="504.28" y="216.00" width="1.6" height="10.00" fill="#26a69a"/>
<line x1="507.92" y1="165.00" x2="507.92" y2="217.00" stroke="#26a69a" stroke-width="0.9" opacity="0.75"/>
<rect x="507.12" y="166.00" width="1.6" height="50.00" fill="#26a69a"/>
<line x1="510.77" y1="124.00" x2="510.77" y2="169.00" stroke="#26a69a" stroke-width="0.9" opacity="0.75"/>
<rect x="509.97" y="125.00" width="1.6" height="41.00" fill="#26a69a"/>
<line x1="513.61" y1="91.00" x2="513.61" y2="131.00" stroke="#26a69a" stroke-width="0.9" opacity="0.75"/>
<rect x="512.81" y="100.60" width="1.6" height="23.80" fill="#26a69a"/>
<line x1="516.46" y1="32.50" x2="516.46" y2="106.00" stroke="#26a69a" stroke-width="0.9" opacity="0.75"/>
<rect x="515.66" y="83.00" width="1.6" height="17.00" fill="#26a69a"/>
<line x1="519.30" y1="58.75" x2="519.30" y2="112.00" stroke="#ef5350" stroke-width="0.9" opacity="0.75"/>
<rect x="518.50" y="83.00" width="1.6" height="18.00" fill="#ef5350"/>
<line x1="522.15" y1="78.00" x2="522.15" y2="134.40" stroke="#ef5350" stroke-width="0.9" opacity="0.75"/>
<rect x="521.35" y="101.00" width="1.6" height="32.00" fill="#ef5350"/>
<line x1="524.99" y1="125.00" x2="524.99" y2="155.00" stroke="#ef5350" stroke-width="0.9" opacity="0.75"/>
<rect x="524.19" y="133.00" width="1.6" height="20.70" fill="#ef5350"/>
<line x1="527.84" y1="135.00" x2="527.84" y2="170.00" stroke="#ef5350" stroke-width="0.9" opacity="0.75"/>
<rect x="527.04" y="151.00" width="1.6" height="10.00" fill="#ef5350"/>
<line x1="530.68" y1="115.60" x2="530.68" y2="171.00" stroke="#26a69a" stroke-width="0.9" opacity="0.75"/>
<rect x="529.88" y="131.00" width="1.6" height="29.00" fill="#26a69a"/>
<line x1="533.53" y1="129.40" x2="533.53" y2="200.00" stroke="#ef5350" stroke-width="0.9" opacity="0.75"/>
<rect x="532.73" y="130.60" width="1.6" height="68.40" fill="#ef5350"/>
<line x1="536.37" y1="178.00" x2="536.37" y2="211.00" stroke="#26a69a" stroke-width="0.9" opacity="0.75"/>
<rect x="535.57" y="187.50" width="1.6" height="11.50" fill="#26a69a"/>
<line x1="539.22" y1="181.00" x2="539.22" y2="195.00" stroke="#ef5350" stroke-width="0.9" opacity="0.75"/>
<rect x="538.42" y="186.00" width="1.6" height="7.00" fill="#ef5350"/>
<line x1="542.06" y1="182.00" x2="542.06" y2="195.60" stroke="#ef5350" stroke-width="0.9" opacity="0.75"/>
<rect x="541.26" y="190.00" width="1.6" height="4.00" fill="#ef5350"/>
<line x1="544.91" y1="186.00" x2="544.91" y2="200.00" stroke="#ef5350" stroke-width="0.9" opacity="0.75"/>
<rect x="544.11" y="192.00" width="1.6" height="7.00" fill="#ef5350"/>
<line x1="547.75" y1="195.00" x2="547.75" y2="230.00" stroke="#ef5350" stroke-width="0.9" opacity="0.75"/>
<rect x="546.95" y="197.50" width="1.6" height="31.50" fill="#ef5350"/>
<line x1="550.60" y1="215.00" x2="550.60" y2="229.40" stroke="#26a69a" stroke-width="0.9" opacity="0.75"/>
<rect x="549.80" y="221.00" width="1.6" height="8.00" fill="#26a69a"/>
<line x1="553.44" y1="213.70" x2="553.44" y2="223.00" stroke="#26a69a" stroke-width="0.9" opacity="0.75"/>
<rect x="552.64" y="216.00" width="1.6" height="5.00" fill="#26a69a"/>
<line x1="556.29" y1="208.70" x2="556.29" y2="232.50" stroke="#ef5350" stroke-width="0.9" opacity="0.75"/>
<rect x="555.49" y="216.00" width="1.6" height="6.00" fill="#ef5350"/>
<line x1="559.13" y1="212.50" x2="559.13" y2="240.00" stroke="#ef5350" stroke-width="0.9" opacity="0.75"/>
<rect x="558.33" y="216.00" width="1.6" height="6.50" fill="#ef5350"/>
<line x1="561.98" y1="215.60" x2="561.98" y2="242.50" stroke="#26a69a" stroke-width="0.9" opacity="0.75"/>
<rect x="561.18" y="220.00" width="1.6" height="2.50" fill="#26a69a"/>
<line x1="564.82" y1="205.00" x2="564.82" y2="246.00" stroke="#26a69a" stroke-width="0.9" opacity="0.75"/>
<rect x="564.02" y="219.40" width="1.6" height="2.60" fill="#26a69a"/>
<line x1="567.67" y1="215.00" x2="567.67" y2="254.00" stroke="#ef5350" stroke-width="0.9" opacity="0.75"/>
<rect x="566.87" y="220.00" width="1.6" height="32.50" fill="#ef5350"/>
<line x1="570.51" y1="243.00" x2="570.51" y2="264.00" stroke="#ef5350" stroke-width="0.9" opacity="0.75"/>
<rect x="569.71" y="250.00" width="1.6" height="13.00" fill="#ef5350"/>
<line x1="573.36" y1="260.00" x2="573.36" y2="273.70" stroke="#ef5350" stroke-width="0.9" opacity="0.75"/>
<rect x="572.56" y="262.00" width="1.6" height="9.00" fill="#ef5350"/>
<line x1="576.20" y1="258.00" x2="576.20" y2="270.60" stroke="#26a69a" stroke-width="0.9" opacity="0.75"/>
<rect x="575.40" y="264.00" width="1.6" height="5.00" fill="#26a69a"/>
<line x1="579.05" y1="264.00" x2="579.05" y2="317.00" stroke="#ef5350" stroke-width="0.9" opacity="0.75"/>
<rect x="578.25" y="265.00" width="1.6" height="50.60" fill="#ef5350"/>
<line x1="581.89" y1="290.60" x2="581.89" y2="325.00" stroke="#26a69a" stroke-width="0.9" opacity="0.75"/>
<rect x="581.09" y="292.50" width="1.6" height="23.50" fill="#26a69a"/>
<line x1="584.74" y1="290.00" x2="584.74" y2="302.00" stroke="#26a69a" stroke-width="0.9" opacity="0.75"/>
<rect x="583.94" y="292.50" width="1.6" height="7.50" fill="#26a69a"/>
<line x1="587.58" y1="292.50" x2="587.58" y2="305.00" stroke="#ef5350" stroke-width="0.9" opacity="0.75"/>
<rect x="586.78" y="294.00" width="1.6" height="8.00" fill="#ef5350"/>
<line x1="590.43" y1="290.00" x2="590.43" y2="302.00" stroke="#26a69a" stroke-width="0.9" opacity="0.75"/>
<rect x="589.63" y="291.00" width="1.6" height="10.00" fill="#26a69a"/>
<line x1="593.27" y1="283.00" x2="593.27" y2="295.00" stroke="#26a69a" stroke-width="0.9" opacity="0.75"/>
<rect x="592.47" y="284.40" width="1.6" height="8.10" fill="#26a69a"/>
<line x1="596.12" y1="277.00" x2="596.12" y2="293.70" stroke="#ef5350" stroke-width="0.9" opacity="0.75"/>
<rect x="595.32" y="283.70" width="1.6" height="7.50" fill="#ef5350"/>
<line x1="598.96" y1="281.90" x2="598.96" y2="296.90" stroke="#ef5350" stroke-width="0.9" opacity="0.75"/>
<rect x="598.16" y="285.60" width="1.6" height="8.10" fill="#ef5350"/>
<line x1="601.81" y1="275.60" x2="601.81" y2="293.70" stroke="#26a69a" stroke-width="0.9" opacity="0.75"/>
<rect x="601.01" y="282.00" width="1.6" height="10.00" fill="#26a69a"/>
<line x1="604.65" y1="275.00" x2="604.65" y2="283.70" stroke="#26a69a" stroke-width="0.9" opacity="0.75"/>
<rect x="603.85" y="278.00" width="1.6" height="4.50" fill="#26a69a"/>
<line x1="607.50" y1="278.00" x2="607.50" y2="295.00" stroke="#ef5350" stroke-width="0.9" opacity="0.75"/>
<rect x="606.70" y="278.70" width="1.6" height="15.00" fill="#ef5350"/>
<line x1="610.34" y1="292.00" x2="610.34" y2="302.50" stroke="#ef5350" stroke-width="0.9" opacity="0.75"/>
<rect x="609.54" y="293.00" width="1.6" height="4.00" fill="#ef5350"/>
<line x1="613.19" y1="286.20" x2="613.19" y2="297.00" stroke="#26a69a" stroke-width="0.9" opacity="0.75"/>
<rect x="612.39" y="288.50" width="1.6" height="7.50" fill="#26a69a"/>
<line x1="616.03" y1="287.00" x2="616.03" y2="296.20" stroke="#ef5350" stroke-width="0.9" opacity="0.75"/>
<rect x="615.23" y="290.00" width="1.6" height="4.00" fill="#ef5350"/>
<line x1="618.88" y1="288.70" x2="618.88" y2="298.00" stroke="#26a69a" stroke-width="0.9" opacity="0.75"/>
<rect x="618.08" y="290.00" width="1.6" height="5.00" fill="#26a69a"/>
<line x1="621.72" y1="288.70" x2="621.72" y2="295.00" stroke="#ef5350" stroke-width="0.9" opacity="0.75"/>
<rect x="620.92" y="289.40" width="1.6" height="4.60" fill="#ef5350"/>
<line x1="624.57" y1="291.90" x2="624.57" y2="297.50" stroke="#ef5350" stroke-width="0.9" opacity="0.75"/>
<rect x="623.77" y="293.00" width="1.6" height="3.00" fill="#ef5350"/>
<line x1="627.41" y1="295.00" x2="627.41" y2="300.60" stroke="#ef5350" stroke-width="0.9" opacity="0.75"/>
<rect x="626.61" y="295.60" width="1.6" height="3.80" fill="#ef5350"/>
<line x1="630.26" y1="295.00" x2="630.26" y2="308.00" stroke="#ef5350" stroke-width="0.9" opacity="0.75"/>
<rect x="629.46" y="296.00" width="1.6" height="10.00" fill="#ef5350"/>
<line x1="633.10" y1="295.00" x2="633.10" y2="309.40" stroke="#26a69a" stroke-width="0.9" opacity="0.75"/>
<rect x="632.30" y="298.70" width="1.6" height="7.30" fill="#26a69a"/>
<line x1="635.95" y1="285.60" x2="635.95" y2="299.40" stroke="#26a69a" stroke-width="0.9" opacity="0.75"/>
<rect x="635.15" y="287.00" width="1.6" height="11.70" fill="#26a69a"/>
<line x1="638.79" y1="283.00" x2="638.79" y2="292.50" stroke="#ef5350" stroke-width="0.9" opacity="0.75"/>
<rect x="637.99" y="285.00" width="1.6" height="5.60" fill="#ef5350"/>
<line x1="641.64" y1="280.60" x2="641.64" y2="293.70" stroke="#ef5350" stroke-width="0.9" opacity="0.75"/>
<rect x="640.84" y="288.00" width="1.6" height="4.00" fill="#ef5350"/>
<line x1="644.48" y1="287.50" x2="644.48" y2="297.50" stroke="#ef5350" stroke-width="0.9" opacity="0.75"/>
<rect x="643.68" y="290.00" width="1.6" height="3.00" fill="#ef5350"/>
<line x1="647.33" y1="284.40" x2="647.33" y2="292.00" stroke="#26a69a" stroke-width="0.9" opacity="0.75"/>
<rect x="646.53" y="287.00" width="1.6" height="4.00" fill="#26a69a"/>
<line x1="650.17" y1="282.00" x2="650.17" y2="292.00" stroke="#26a69a" stroke-width="0.9" opacity="0.75"/>
<rect x="649.37" y="284.40" width="1.6" height="5.00" fill="#26a69a"/>
<line x1="653.02" y1="284.40" x2="653.02" y2="291.20" stroke="#ef5350" stroke-width="0.9" opacity="0.75"/>
<rect x="652.22" y="285.00" width="1.6" height="4.40" fill="#ef5350"/>
<line x1="655.86" y1="275.00" x2="655.86" y2="290.00" stroke="#26a69a" stroke-width="0.9" opacity="0.75"/>
<rect x="655.06" y="280.60" width="1.6" height="8.10" fill="#26a69a"/>
<line x1="658.71" y1="268.70" x2="658.71" y2="282.00" stroke="#26a69a" stroke-width="0.9" opacity="0.75"/>
<rect x="657.91" y="277.50" width="1.6" height="3.50" fill="#26a69a"/>
<line x1="661.55" y1="273.70" x2="661.55" y2="287.50" stroke="#ef5350" stroke-width="0.9" opacity="0.75"/>
<rect x="660.75" y="277.50" width="1.6" height="6.90" fill="#ef5350"/>
<line x1="664.40" y1="282.00" x2="664.40" y2="287.00" stroke="#ef5350" stroke-width="0.9" opacity="0.75"/>
<rect x="663.60" y="283.00" width="1.6" height="3.00" fill="#ef5350"/>
<line x1="667.24" y1="285.00" x2="667.24" y2="293.00" stroke="#ef5350" stroke-width="0.9" opacity="0.75"/>
<rect x="666.44" y="285.60" width="1.6" height="6.90" fill="#ef5350"/>
<line x1="670.09" y1="282.00" x2="670.09" y2="293.00" stroke="#26a69a" stroke-width="0.9" opacity="0.75"/>
<rect x="669.29" y="286.00" width="1.6" height="6.50" fill="#26a69a"/>
<line x1="672.93" y1="280.60" x2="672.93" y2="289.40" stroke="#26a69a" stroke-width="0.9" opacity="0.75"/>
<rect x="672.13" y="282.00" width="1.6" height="6.00" fill="#26a69a"/>
<line x1="675.78" y1="276.20" x2="675.78" y2="284.40" stroke="#ef5350" stroke-width="0.9" opacity="0.75"/>
<rect x="674.98" y="280.60" width="1.6" height="3.10" fill="#ef5350"/>
<line x1="678.62" y1="278.00" x2="678.62" y2="285.00" stroke="#ef5350" stroke-width="0.9" opacity="0.75"/>
<rect x="677.82" y="282.00" width="1.6" height="2.00" fill="#ef5350"/>
<line x1="681.47" y1="276.70" x2="681.47" y2="283.90" stroke="#26a69a" stroke-width="0.9" opacity="0.75"/>
<rect x="680.67" y="278.00" width="1.6" height="5.50" fill="#26a69a"/>
<rect x="554" y="15.50" width="19.70" height="107.58" fill="#da3a41" fill-opacity="0.3"/>
<rect x="554" y="123.08" width="19.70" height="77.17" fill="#3030cd" fill-opacity="0.3"/>
<rect x="554" y="200.25" width="19.70" height="26.73" fill="#8a8a91" fill-opacity="0.3"/>
<rect x="554" y="226.98" width="19.70" height="20.98" fill="#5facd7" fill-opacity="0.3"/>
<rect x="554" y="247.96" width="19.70" height="14.73" fill="#8a52b2" fill-opacity="0.3"/>
<rect x="554" y="262.69" width="19.70" height="14.73" fill="#4bc33a" fill-opacity="0.3"/>
<rect x="554" y="277.42" width="19.70" height="18.24" fill="#767684" fill-opacity="0.3"/>
<rect x="554" y="295.66" width="19.70" height="29.47" fill="#de4b4b" fill-opacity="0.3"/>
<line x1="552.5" y1="123.08" x2="573.7" y2="123.08" stroke="#8f8fd0" stroke-width="1"/>
<line x1="552.5" y1="200.25" x2="573.7" y2="200.25" stroke="#9a9a9a" stroke-width="1"/>
<line x1="552.5" y1="226.98" x2="573.7" y2="226.98" stroke="#7fb2d6" stroke-width="1"/>
<line x1="552.5" y1="247.96" x2="573.7" y2="247.96" stroke="#8a6fae" stroke-width="1"/>
<line x1="552.5" y1="262.69" x2="573.7" y2="262.69" stroke="#7cc77a" stroke-width="1"/>
<line x1="552.5" y1="277.42" x2="573.7" y2="277.42" stroke="#8d8d92" stroke-width="1"/>
<line x1="552.5" y1="295.66" x2="573.7" y2="295.66" stroke="#e39a9a" stroke-width="1"/>
<line x1="552.5" y1="325.13" x2="573.7" y2="325.13" stroke="#b78f8f" stroke-width="1"/>
<line x1="555.5" y1="200.25" x2="572.5" y2="325.13" stroke="#9e9e9e" stroke-width="1" stroke-dasharray="3 2.5"/>
<text transform="translate(503.20,125.96) scale(0.8762,1)" font-family="Liberation Sans, sans-serif" font-size="8" fill="#a9a9e0" stroke="#a9a9e0" stroke-width="0.12">1.618 (638.43)</text>
<text transform="translate(517.80,203.13) scale(0.8500,1)" font-family="Liberation Sans, sans-serif" font-size="8" fill="#8d8d8d" stroke="#8d8d8d" stroke-width="0.12">1 (500.00)</text>
<text transform="translate(503.20,229.86) scale(0.8762,1)" font-family="Liberation Sans, sans-serif" font-size="8" fill="#5fa3cf" stroke="#5fa3cf" stroke-width="0.12">0.786 (452.06)</text>
<text transform="translate(503.20,250.84) scale(0.8762,1)" font-family="Liberation Sans, sans-serif" font-size="8" fill="#64508a" stroke="#64508a" stroke-width="0.12">0.618 (414.43)</text>
<text transform="translate(511.70,265.57) scale(0.8600,1)" font-family="Liberation Sans, sans-serif" font-size="8" fill="#5cb85c" stroke="#5cb85c" stroke-width="0.12">0.5 (388.00)</text>
<text transform="translate(503.20,280.30) scale(0.8762,1)" font-family="Liberation Sans, sans-serif" font-size="8" fill="#4a4a4a" stroke="#4a4a4a" stroke-width="0.12">0.382 (361.57)</text>
<text transform="translate(503.20,298.54) scale(0.8762,1)" font-family="Liberation Sans, sans-serif" font-size="8" fill="#e5a0a0" stroke="#e5a0a0" stroke-width="0.12">0.236 (328.86)</text>
<text transform="translate(517.80,328.01) scale(0.8500,1)" font-family="Liberation Sans, sans-serif" font-size="8" fill="#7a7a7a" stroke="#7a7a7a" stroke-width="0.12">0 (276.00)</text>
<line x1="393.1" y1="278.3" x2="712" y2="278.3" stroke="#1717e6" stroke-width="2" stroke-dasharray="8.6 10.72"/>
<line x1="585" y1="306.5" x2="755" y2="306.5" stroke="#1717e6" stroke-width="2" stroke-dasharray="8.6 10.8"/>
<polyline points="6.25,298.75 7.00,298.75 7.75,298.75 8.50,298.76 9.25,298.76 10.00,298.76 10.75,298.77 11.50,298.78 12.25,298.79 13.00,298.79 13.75,298.80 14.50,298.81 15.25,298.82 16.00,298.84 16.75,298.85 17.50,298.86 18.25,298.87 19.00,298.88 19.75,298.90 20.50,298.91 21.25,298.92 22.00,298.94 22.75,298.96 23.50,298.98 24.25,299.00 25.00,299.02 25.75,299.04 26.50,299.07 27.25,299.09 28.00,299.12 28.75,299.15 29.50,299.18 30.25,299.22 31.00,299.25 31.75,299.29 32.50,299.33 33.25,299.37 34.00,299.42 34.75,299.47 35.50,299.55 36.25,299.64 37.00,299.74 37.75,299.84 38.50,299.95 39.25,300.06 40.00,300.17 40.75,300.28 41.50,300.38 42.25,300.47 43.00,300.54 43.75,300.60 44.50,300.65 45.25,300.68 46.00,300.72 46.75,300.75 47.50,300.78 48.25,300.81 49.00,300.84 49.75,300.88 50.50,300.93 51.25,300.99 52.00,301.05 52.75,301.12 53.50,301.19 54.25,301.27 55.00,301.35 55.75,301.44 56.50,301.53 57.25,301.63 58.00,301.75 58.75,301.87 59.50,302.00 60.25,302.13 61.00,302.26 61.75,302.38 62.50,302.50 63.25,302.61 64.00,302.72 64.75,302.82 65.50,302.92 66.25,303.02 67.00,303.13 67.75,303.24 68.50,303.36 69.25,303.49 70.00,303.63 70.75,303.77 71.50,303.93 72.25,304.09 73.00,304.25 73.75,304.42 74.50,304.59 75.25,304.76 76.00,304.94 76.75,305.13 77.50,305.32 78.25,305.52 79.00,305.71 79.75,305.90 80.50,306.08 81.25,306.25 82.00,306.40 82.75,306.55 83.50,306.69 84.25,306.83 85.00,306.96 85.75,307.09 86.50,307.22 87.25,307.36 88.00,307.49 88.75,307.62 89.50,307.76 90.25,307.89 91.00,308.02 91.75,308.15 92.50,308.28 93.25,308.41 94.00,308.54 94.75,308.67 95.50,308.80 96.25,308.93 97.00,309.05 97.75,309.18 98.50,309.30 99.25,309.43 100.00,309.56 100.75,309.69 101.50,309.82 102.25,309.95 103.00,310.09 103.75,310.23 104.50,310.38 105.25,310.52 106.00,310.67 106.75,310.82 107.50,310.97 108.25,311.12 109.00,311.28 109.75,311.43 110.50,311.58 111.25,311.74 112.00,311.89 112.75,312.04 113.50,312.20 114.25,312.35 115.00,312.50 115.75,312.65 116.50,312.79 117.25,312.93 118.00,313.07 118.75,313.22 119.50,313.36 120.25,313.52 121.00,313.69 121.75,313.87 122.50,314.07 123.25,314.29 124.00,314.51 124.75,314.74 125.50,314.98 126.25,315.22 127.00,315.45 127.75,315.68 128.50,315.90 129.25,316.13 130.00,316.36 130.75,316.58 131.50,316.81 132.25,317.04 133.00,317.27 133.75,317.50 134.50,317.73 135.25,317.96 136.00,318.20 136.75,318.43 137.50,318.66 138.25,318.89 139.00,319.11 139.75,319.33 140.50,319.54 141.25,319.74 142.00,319.94 142.75,320.13 143.50,320.32 144.25,320.51 145.00,320.69 145.75,320.88 146.50,321.06 147.25,321.25 148.00,321.43 148.75,321.62 149.50,321.80 150.25,321.98 151.00,322.16 151.75,322.33 152.50,322.50 153.25,322.66 154.00,322.82 154.75,322.98 155.50,323.14 156.25,323.29 157.00,323.43 157.75,323.57 158.50,323.71 159.25,323.84 160.00,323.97 160.75,324.11 161.50,324.24 162.25,324.36 163.00,324.48 163.75,324.58 164.50,324.66 165.25,324.72 166.00,324.77 166.75,324.81 167.50,324.85 168.25,324.88 169.00,324.91 169.75,324.94 170.50,324.97 171.25,325.00 172.00,325.04 172.75,325.07 173.50,325.11 174.25,325.15 175.00,325.19 175.75,325.22 176.50,325.24 177.25,325.25 178.00,325.25 178.75,325.25 179.50,325.25 180.25,325.25 181.00,325.25 181.75,325.25 182.50,325.25 183.25,325.25 184.00,325.25 184.75,325.26 185.50,325.27 186.25,325.28 187.00,325.30 187.75,325.32 188.50,325.33 189.25,325.35 190.00,325.37 190.75,325.38 191.50,325.39 192.25,325.40 193.00,325.40 193.75,325.40 194.50,325.40 195.25,325.39 196.00,325.39 196.75,325.38 197.50,325.37 198.25,325.36 199.00,325.36 199.75,325.35 200.50,325.33 201.25,325.32 202.00,325.31 202.75,325.30 203.50,325.28 204.25,325.27 205.00,325.25 205.75,325.23 206.50,325.20 207.25,325.16 208.00,325.12 208.75,325.06 209.50,325.00 210.25,324.93 211.00,324.86 211.75,324.78 212.50,324.70 213.25,324.62 214.00,324.53 214.75,324.43 215.50,324.33 216.25,324.20 217.00,324.05 217.75,323.88 218.50,323.70 219.25,323.51 220.00,323.32 220.75,323.12 221.50,322.94 222.25,322.75 223.00,322.55 223.75,322.35 224.50,322.15 225.25,321.94 226.00,321.73 226.75,321.52 227.50,321.31 228.25,321.09 229.00,320.88 229.75,320.67 230.50,320.46 231.25,320.24 232.00,320.02 232.75,319.80 233.50,319.57 234.25,319.35 235.00,319.13 235.75,318.91 236.50,318.70 237.25,318.49 238.00,318.29 238.75,318.10 239.50,317.91 240.25,317.72 241.00,317.53 241.75,317.36 242.50,317.20 243.25,317.07 244.00,316.97 244.75,316.90 245.50,316.84 246.25,316.79 247.00,316.74 247.75,316.70 248.50,316.64 249.25,316.58 250.00,316.50 250.75,316.38 251.50,316.22 252.25,316.02 253.00,315.80 253.75,315.58 254.50,315.37 255.25,315.18 256.00,315.04 256.75,314.94 257.50,314.86 258.25,314.79 259.00,314.73 259.75,314.67 260.50,314.61 261.25,314.54 262.00,314.46 262.75,314.36 263.50,314.22 264.25,314.05 265.00,313.85 265.75,313.63 266.50,313.42 267.25,313.22 268.00,313.04 268.75,312.90 269.50,312.79 270.25,312.69 271.00,312.60 271.75,312.52 272.50,312.44 273.25,312.37 274.00,312.29 274.75,312.20 275.50,312.11 276.25,312.00 277.00,311.87 277.75,311.73 278.50,311.57 279.25,311.40 280.00,311.22 280.75,311.04 281.50,310.85 282.25,310.66 283.00,310.47 283.75,310.29 284.50,310.11 285.25,309.95 286.00,309.78 286.75,309.62 287.50,309.46 288.25,309.31 289.00,309.15 289.75,308.99 290.50,308.84 291.25,308.68 292.00,308.53 292.75,308.37 293.50,308.22 294.25,308.06 295.00,307.90 295.75,307.74 296.50,307.58 297.25,307.41 298.00,307.25 298.75,307.09 299.50,306.92 300.25,306.76 301.00,306.59 301.75,306.43 302.50,306.27 303.25,306.11 304.00,305.96 304.75,305.80 305.50,305.65 306.25,305.50 307.00,305.36 307.75,305.22 308.50,305.08 309.25,304.95 310.00,304.81 310.75,304.67 311.50,304.54 312.25,304.40 313.00,304.26 313.75,304.11 314.50,303.97 315.25,303.81 316.00,303.65 316.75,303.49 317.50,303.32 318.25,303.15 319.00,302.97 319.75,302.78 320.50,302.60 321.25,302.41 322.00,302.21 322.75,302.01 323.50,301.81 324.25,301.61 325.00,301.40 325.75,301.19 326.50,300.97 327.25,300.75 328.00,300.53 328.75,300.30 329.50,300.06 330.25,299.82 331.00,299.58 331.75,299.34 332.50,299.09 333.25,298.84 334.00,298.59 334.75,298.34 335.50,298.08 336.25,297.81 337.00,297.54 337.75,297.27 338.50,296.99 339.25,296.70 340.00,296.42 340.75,296.13 341.50,295.84 342.25,295.55 343.00,295.26 343.75,294.98 344.50,294.69 345.25,294.41 346.00,294.13 346.75,293.85 347.50,293.57 348.25,293.29 349.00,293.00 349.75,292.70 350.50,292.39 351.25,292.05 352.00,291.69 352.75,291.32 353.50,290.95 354.25,290.58 355.00,290.22 355.75,289.88 356.50,289.56 357.25,289.28 358.00,289.04 358.75,288.83 359.50,288.63 360.25,288.44 361.00,288.25 361.75,288.06 362.50,287.87 363.25,287.68 364.00,287.48 364.75,287.29 365.50,287.10 366.25,286.90 367.00,286.70 367.75,286.49 368.50,286.29 369.25,286.08 370.00,285.86 370.75,285.65 371.50,285.44 372.25,285.23 373.00,285.03 373.75,284.83 374.50,284.63 375.25,284.44 376.00,284.26 376.75,284.08 377.50,283.92 378.25,283.75 379.00,283.58 379.75,283.40 380.50,283.21 381.25,283.00 382.00,282.77 382.75,282.52 383.50,282.25 384.25,281.97 385.00,281.68 385.75,281.39 386.50,281.11 387.25,280.84 388.00,280.58 388.75,280.32 389.50,280.06 390.25,279.81 391.00,279.55 391.75,279.30 392.50,279.06 393.25,278.81 394.00,278.57 394.75,278.33 395.50,278.09 396.25,277.87 397.00,277.64 397.75,277.42 398.50,277.20 399.25,276.98 400.00,276.75 400.75,276.51 401.50,276.27 402.25,276.02 403.00,275.77 403.75,275.51 404.50,275.26 405.25,275.00 406.00,274.75 406.75,274.51 407.50,274.27 408.25,274.05 409.00,273.83 409.75,273.62 410.50,273.43 411.25,273.24 412.00,273.05 412.75,272.86 413.50,272.67 414.25,272.46 415.00,272.25 415.75,272.04 416.50,271.83 417.25,271.61 418.00,271.39 418.75,271.17 419.50,270.96 420.25,270.74 421.00,270.52 421.75,270.31 422.50,270.10 423.25,269.89 424.00,269.69 424.75,269.50 425.50,269.30 426.25,269.11 427.00,268.92 427.75,268.73 428.50,268.54 429.25,268.35 430.00,268.15 430.75,267.96 431.50,267.76 432.25,267.55 433.00,267.34 433.75,267.13 434.50,266.90 435.25,266.67 436.00,266.44 436.75,266.20 437.50,265.96 438.25,265.71 439.00,265.45 439.75,265.19 440.50,264.91 441.25,264.63 442.00,264.34 442.75,264.03 443.50,263.71 444.25,263.38 445.00,263.03 445.75,262.67 446.50,262.30 447.25,261.91 448.00,261.50 448.75,261.07 449.50,260.62 450.25,260.15 451.00,259.66 451.75,259.14 452.50,258.60 453.25,257.94 454.00,257.14 454.75,256.32 455.50,255.57 456.25,255.00 457.00,254.59 457.75,254.22 458.50,253.88 459.25,253.58 460.00,253.31 460.75,253.06 461.50,252.81 462.25,252.58 463.00,252.35 463.75,252.13 464.50,251.92 465.25,251.71 466.00,251.52 466.75,251.34 467.50,251.16 468.25,250.99 469.00,250.82 469.75,250.65 470.50,250.49 471.25,250.33 472.00,250.18 472.75,250.03 473.50,249.88 474.25,249.73 475.00,249.59 475.75,249.45 476.50,249.32 477.25,249.19 478.00,249.06 478.75,248.94 479.50,248.83 480.25,248.71 481.00,248.61 481.75,248.51 482.50,248.41 483.25,248.32 484.00,248.23 484.75,248.15 485.50,248.06 486.25,247.98 487.00,247.89 487.75,247.80 488.50,247.70 489.25,247.60 490.00,247.50 490.75,247.39 491.50,247.29 492.25,247.19 493.00,247.08 493.75,246.97 494.50,246.85 495.25,246.72 496.00,246.58 496.75,246.42 497.50,246.25 498.25,246.04 499.00,245.79 499.75,245.49 500.50,245.17 501.25,244.81 502.00,244.43 502.75,244.04 503.50,243.64 504.25,243.22 505.00,242.78 505.75,242.30 506.50,241.79 507.25,241.24 508.00,240.64 508.75,240.00 509.50,239.25 510.25,238.36 511.00,237.41 511.75,236.47 512.50,235.60 513.25,234.79 514.00,233.99 514.75,233.21 515.50,232.45 516.25,231.73 517.00,231.04 517.75,230.39 518.50,229.78 519.25,229.20 520.00,228.64 520.75,228.11 521.50,227.58 522.25,227.07 523.00,226.57 523.75,226.09 524.50,225.63 525.25,225.18 526.00,224.72 526.75,224.25 527.50,223.75 528.25,223.20 529.00,222.60 529.75,222.00 530.50,221.42 531.25,220.90 532.00,220.43 532.75,219.98 533.50,219.54 534.25,219.13 535.00,218.73 535.75,218.34 536.50,217.97 537.25,217.62 538.00,217.27 538.75,216.95 539.50,216.64 540.25,216.35 541.00,216.06 541.75,215.77 542.50,215.49 543.25,215.20 544.00,214.90 544.75,214.59 545.50,214.28 546.25,213.97 547.00,213.66 547.75,213.35 548.50,213.05 549.25,212.77 550.00,212.50 550.75,212.24 551.50,211.99 552.25,211.74 553.00,211.50 553.75,211.27 554.50,211.06 555.25,210.85 556.00,210.66 556.75,210.48 557.50,210.31 558.25,210.14 559.00,209.98 559.75,209.83 560.50,209.69 561.25,209.57 562.00,209.46 562.75,209.37 563.50,209.29 564.25,209.21 565.00,209.13 565.75,209.07 566.50,209.02 567.25,209.00 568.00,209.01 568.75,209.03 569.50,209.08 570.25,209.15 571.00,209.23 571.75,209.31 572.50,209.40 573.25,209.50 574.00,209.64 574.75,209.80 575.50,209.98 576.25,210.19 577.00,210.43 577.75,210.70 578.50,211.11 579.25,211.59 580.00,212.00 580.75,212.31 581.50,212.57 582.25,212.82 583.00,213.09 583.75,213.40 584.50,213.79 585.25,214.24 586.00,214.75 586.75,215.28 587.50,215.83 588.25,216.37 589.00,216.88 589.75,217.36 590.50,217.78 591.25,218.19 592.00,218.59 592.75,218.97 593.50,219.35 594.25,219.71 595.00,220.05 595.75,220.39 596.50,220.70 597.25,221.01 598.00,221.29 598.75,221.57 599.50,221.83 600.25,222.09 601.00,222.35 601.75,222.60 602.50,222.86 603.25,223.11 604.00,223.38 604.75,223.66 605.50,223.94 606.25,224.23 607.00,224.53 607.75,224.83 608.50,225.14 609.25,225.44 610.00,225.75 610.75,226.05 611.50,226.35 612.25,226.65 613.00,226.96 613.75,227.27 614.50,227.58 615.25,227.88 616.00,228.18 616.75,228.47 617.50,228.75 618.25,229.02 619.00,229.27 619.75,229.52 620.50,229.76 621.25,230.00 622.00,230.24 622.75,230.48 623.50,230.73 624.25,230.98 625.00,231.25 625.75,231.53 626.50,231.82 627.25,232.12 628.00,232.42 628.75,232.73 629.50,233.04 630.25,233.35 631.00,233.65 631.75,233.95 632.50,234.25 633.25,234.55 634.00,234.85 634.75,235.15 635.50,235.45 636.25,235.75 637.00,236.05 637.75,236.35 638.50,236.64 639.25,236.92 640.00,237.19 640.75,237.47 641.50,237.76 642.25,238.07 643.00,238.40 643.75,238.75 644.50,239.13 645.25,239.53 646.00,239.96 646.75,240.43 647.50,240.94 648.25,241.50 649.00,242.12 649.75,242.88 650.50,243.76 651.25,244.71 652.00,245.65 652.75,246.54 653.50,247.41 654.25,248.28 655.00,249.15 655.75,250.02 656.50,250.89 657.25,251.79 658.00,252.69 658.75,253.58 659.50,254.45 660.25,255.27 661.00,256.05 661.75,256.79 662.50,257.52 663.25,258.25 664.00,258.98 664.75,259.74 665.50,260.53 666.25,261.36 667.00,262.22 667.75,263.07 668.50,263.91 669.25,264.73 670.00,265.50 670.75,266.24 671.50,266.95 672.25,267.65 673.00,268.33 673.75,268.98 674.50,269.60 675.25,270.19 676.00,270.73 676.75,271.24 677.50,271.74 678.25,272.25 679.00,272.78 679.75,273.34 680.50,273.92 681.25,274.50 681.50,274.70" fill="none" stroke="#e0284a" stroke-width="1.8" stroke-linejoin="round" stroke-linecap="round"/>
<polyline points="6.25,296.90 7.00,296.92 7.75,296.93 8.50,296.95 9.25,296.97 10.00,296.98 10.75,297.00 11.50,297.01 12.25,297.03 13.00,297.05 13.75,297.06 14.50,297.08 15.25,297.10 16.00,297.11 16.75,297.13 17.50,297.15 18.25,297.16 19.00,297.18 19.75,297.19 20.50,297.21 21.25,297.22 22.00,297.24 22.75,297.25 23.50,297.26 24.25,297.27 25.00,297.28 25.75,297.29 26.50,297.30 27.25,297.31 28.00,297.32 28.75,297.33 29.50,297.35 30.25,297.37 31.00,297.39 31.75,297.41 32.50,297.44 33.25,297.48 34.00,297.53 34.75,297.78 35.50,298.20 36.25,298.69 37.00,299.16 37.75,299.50 38.50,299.80 39.25,300.08 40.00,300.34 40.75,300.59 41.50,300.83 42.25,301.07 43.00,301.29 43.75,301.50 44.50,301.70 45.25,301.88 46.00,302.04 46.75,302.21 47.50,302.37 48.25,302.54 49.00,302.72 49.75,302.93 50.50,303.16 51.25,303.41 52.00,303.69 52.75,303.99 53.50,304.31 54.25,304.65 55.00,305.00 55.75,305.38 56.50,305.80 57.25,306.24 58.00,306.71 58.75,307.19 59.50,307.68 60.25,308.16 61.00,308.68 61.75,309.21 62.50,309.76 63.25,310.30 64.00,310.83 64.75,311.34 65.50,311.81 66.25,312.26 67.00,312.69 67.75,313.11 68.50,313.53 69.25,313.96 70.00,314.40 70.75,314.85 71.50,315.30 72.25,315.75 73.00,316.21 73.75,316.68 74.50,317.17 75.25,317.67 76.00,318.21 76.75,318.79 77.50,319.37 78.25,319.96 79.00,320.53 79.75,321.08 80.50,321.60 81.25,322.15 82.00,322.70 82.75,323.23 83.50,323.71 84.25,324.11 85.00,324.40 85.75,324.61 86.50,324.78 87.25,324.92 88.00,325.05 88.75,325.20 89.50,325.35 90.25,325.49 91.00,325.63 91.75,325.78 92.50,325.93 93.25,326.09 94.00,326.26 94.75,326.50 95.50,326.73 96.25,326.90 97.00,327.01 97.75,327.12 98.50,327.22 99.25,327.31 100.00,327.38 100.75,327.44 101.50,327.48 102.25,327.50 103.00,327.50 103.75,327.48 104.50,327.46 105.25,327.43 106.00,327.39 106.75,327.35 107.50,327.31 108.25,327.27 109.00,327.24 109.75,327.19 110.50,327.14 111.25,327.08 112.00,327.03 112.75,326.98 113.50,326.94 114.25,326.91 115.00,326.90 115.75,326.91 116.50,326.93 117.25,326.96 118.00,327.01 118.75,327.06 119.50,327.11 120.25,327.17 121.00,327.23 121.75,327.29 122.50,327.37 123.25,327.45 124.00,327.54 124.75,327.64 125.50,327.74 126.25,327.84 127.00,327.94 127.75,328.03 128.50,328.14 129.25,328.25 130.00,328.37 130.75,328.49 131.50,328.59 132.25,328.67 133.00,328.73 133.75,328.75 134.50,328.74 135.25,328.73 136.00,328.70 136.75,328.67 137.50,328.64 138.25,328.60 139.00,328.55 139.75,328.51 140.50,328.47 141.25,328.41 142.00,328.33 142.75,328.25 143.50,328.17 144.25,328.10 145.00,328.04 145.75,328.01 146.50,328.00 147.25,328.03 148.00,328.10 148.75,328.18 149.50,328.26 150.25,328.35 151.00,328.43 151.75,328.48 152.50,328.50 153.25,328.49 154.00,328.46 154.75,328.41 155.50,328.35 156.25,328.28 157.00,328.20 157.75,328.12 158.50,328.03 159.25,327.93 160.00,327.82 160.75,327.67 161.50,327.50 162.25,327.32 163.00,327.10 163.75,326.83 164.50,326.52 165.25,326.17 166.00,325.80 166.75,325.40 167.50,325.00 168.25,324.55 169.00,324.03 169.75,323.50 170.50,322.97 171.25,322.50 172.00,322.07 172.75,321.65 173.50,321.26 174.25,320.90 175.00,320.60 175.75,320.34 176.50,320.10 177.25,319.88 178.00,319.68 178.75,319.49 179.50,319.32 180.25,319.14 181.00,318.96 181.75,318.79 182.50,318.61 183.25,318.45 184.00,318.30 184.75,318.17 185.50,318.07 186.25,318.00 187.00,317.95 187.75,317.92 188.50,317.89 189.25,317.86 190.00,317.83 190.75,317.81 191.50,317.79 192.25,317.76 193.00,317.73 193.75,317.69 194.50,317.65 195.25,317.61 196.00,317.58 196.75,317.54 197.50,317.52 198.25,317.50 199.00,317.50 199.75,317.51 200.50,317.54 201.25,317.57 202.00,317.61 202.75,317.65 203.50,317.69 204.25,317.72 205.00,317.75 205.75,317.77 206.50,317.80 207.25,317.82 208.00,317.84 208.75,317.87 209.50,317.88 210.25,317.89 211.00,317.90 211.75,317.88 212.50,317.81 213.25,317.68 214.00,317.52 214.75,317.32 215.50,317.05 216.25,316.56 217.00,315.98 217.75,315.41 218.50,314.79 219.25,314.12 220.00,313.45 220.75,312.84 221.50,312.35 222.25,311.91 223.00,311.52 223.75,311.16 224.50,310.82 225.25,310.49 226.00,310.19 226.75,309.91 227.50,309.64 228.25,309.37 229.00,309.11 229.75,308.84 230.50,308.57 231.25,308.30 232.00,308.04 232.75,307.77 233.50,307.50 234.25,307.21 235.00,306.90 235.75,306.53 236.50,306.11 237.25,305.69 238.00,305.30 238.75,305.00 239.50,304.75 240.25,304.53 241.00,304.41 241.75,304.59 242.50,305.30 243.25,306.03 244.00,306.27 244.75,306.33 245.50,306.38 246.25,306.42 247.00,306.45 247.75,306.47 248.50,306.49 249.25,306.50 250.00,306.50 250.75,306.49 251.50,306.46 252.25,306.43 253.00,306.38 253.75,306.34 254.50,306.30 255.25,306.27 256.00,306.25 256.75,306.26 257.50,306.33 258.25,306.43 259.00,306.56 259.75,306.69 260.50,306.82 261.25,306.92 262.00,306.99 262.75,307.00 263.50,307.00 264.25,306.99 265.00,306.98 265.75,306.97 266.50,306.95 267.25,306.94 268.00,306.92 268.75,306.90 269.50,306.86 270.25,306.80 271.00,306.72 271.75,306.66 272.50,306.61 273.25,306.60 274.00,306.63 274.75,306.68 275.50,306.73 276.25,306.75 277.00,306.69 277.75,306.52 278.50,306.29 279.25,306.02 280.00,305.75 280.75,305.46 281.50,305.12 282.25,304.73 283.00,304.33 283.75,303.91 284.50,303.51 285.25,303.12 286.00,302.73 286.75,302.33 287.50,301.92 288.25,301.53 289.00,301.17 289.75,300.85 290.50,300.57 291.25,300.31 292.00,300.07 292.75,299.84 293.50,299.63 294.25,299.44 295.00,299.25 295.75,299.08 296.50,298.93 297.25,298.80 298.00,298.66 298.75,298.52 299.50,298.36 300.25,298.19 301.00,297.99 301.75,297.76 302.50,297.53 303.25,297.29 304.00,297.05 304.75,296.82 305.50,296.61 306.25,296.40 307.00,296.19 307.75,295.98 308.50,295.78 309.25,295.59 310.00,295.40 310.75,295.23 311.50,295.08 312.25,294.94 313.00,294.81 313.75,294.66 314.50,294.50 315.25,294.31 316.00,294.09 316.75,293.79 317.50,293.34 318.25,292.80 319.00,292.20 319.75,291.60 320.50,291.00 321.25,290.36 322.00,289.68 322.75,288.99 323.50,288.30 324.25,287.63 325.00,287.00 325.75,286.39 326.50,285.78 327.25,285.19 328.00,284.61 328.75,284.07 329.50,283.56 330.25,283.10 331.00,282.70 331.75,282.32 332.50,281.97 333.25,281.63 334.00,281.27 334.75,280.89 335.50,280.47 336.25,280.04 337.00,279.59 337.75,279.13 338.50,278.64 339.25,278.13 340.00,277.60 340.75,277.02 341.50,276.38 342.25,275.70 343.00,275.01 343.75,274.32 344.50,273.67 345.25,273.05 346.00,272.42 346.75,271.78 347.50,271.15 348.25,270.57 349.00,270.05 349.75,269.62 350.50,269.27 351.25,268.93 352.00,268.61 352.75,268.33 353.50,268.10 354.25,267.95 355.00,267.90 355.75,268.06 356.50,268.43 357.25,268.87 358.00,269.27 358.75,269.72 359.50,270.19 360.25,270.66 361.00,271.08 361.75,271.45 362.50,271.85 363.25,272.21 364.00,272.45 364.75,272.50 365.50,272.48 366.25,272.45 367.00,272.40 367.75,272.34 368.50,272.27 369.25,272.19 370.00,272.06 370.75,271.89 371.50,271.68 372.25,271.44 373.00,271.18 373.75,270.90 374.50,270.60 375.25,270.29 376.00,269.93 376.75,269.51 377.50,269.04 378.25,268.54 379.00,268.01 379.75,267.47 380.50,266.93 381.25,266.40 382.00,265.86 382.75,265.30 383.50,264.71 384.25,264.11 385.00,263.52 385.75,262.95 386.50,262.41 387.25,261.91 388.00,261.44 388.75,260.99 389.50,260.60 390.25,260.32 391.00,260.10 391.75,259.91 392.50,259.75 393.25,259.60 394.00,259.45 394.75,259.30 395.50,259.14 396.25,258.94 397.00,258.74 397.75,258.56 398.50,258.40 399.25,258.29 400.00,258.25 400.75,258.26 401.50,258.28 402.25,258.31 403.00,258.35 403.75,258.40 404.50,258.46 405.25,258.53 406.00,258.70 406.75,258.96 407.50,259.27 408.25,259.57 409.00,259.84 409.75,260.13 410.50,260.46 411.25,260.78 412.00,261.07 412.75,261.28 413.50,261.39 414.25,261.38 415.00,261.26 415.75,261.07 416.50,260.84 417.25,260.58 418.00,260.30 418.75,259.91 419.50,259.43 420.25,258.92 421.00,258.41 421.75,257.96 422.50,257.60 423.25,257.32 424.00,257.07 424.75,256.84 425.50,256.63 426.25,256.43 427.00,256.23 427.75,256.03 428.50,255.82 429.25,255.60 430.00,255.38 430.75,255.15 431.50,254.92 432.25,254.70 433.00,254.47 433.75,254.25 434.50,254.04 435.25,253.83 436.00,253.65 436.75,253.48 437.50,253.31 438.25,253.14 439.00,252.93 439.75,252.69 440.50,252.39 441.25,251.99 442.00,251.51 442.75,250.97 443.50,250.40 444.25,249.77 445.00,249.02 445.75,248.20 446.50,247.38 447.25,246.63 448.00,245.97 448.75,245.33 449.50,244.72 450.25,244.13 451.00,243.58 451.75,243.07 452.50,242.60 453.25,242.17 454.00,241.77 454.75,241.39 455.50,241.05 456.25,240.75 457.00,240.49 457.75,240.27 458.50,240.06 459.25,239.84 460.00,239.60 460.75,239.31 461.50,238.99 462.25,238.64 463.00,238.30 463.75,237.97 464.50,237.67 465.25,237.42 466.00,237.17 466.75,236.92 467.50,236.68 468.25,236.48 469.00,236.33 469.75,236.26 470.50,236.25 471.25,236.25 472.00,236.25 472.75,236.25 473.50,236.25 474.25,236.25 475.00,236.25 475.75,236.28 476.50,236.35 477.25,236.46 478.00,236.58 478.75,236.71 479.50,236.83 480.25,236.93 481.00,237.04 481.75,237.16 482.50,237.28 483.25,237.38 484.00,237.46 484.75,237.50 485.50,237.50 486.25,237.50 487.00,237.50 487.75,237.50 488.50,237.50 489.25,237.50 490.00,237.50 490.75,237.49 491.50,237.47 492.25,237.44 493.00,237.40 493.75,237.35 494.50,237.29 495.25,237.23 496.00,237.14 496.75,237.02 497.50,236.88 498.25,236.71 499.00,236.53 499.75,236.32 500.50,236.10 501.25,235.83 502.00,235.50 502.75,235.10 503.50,234.59 504.25,233.85 505.00,232.60 505.75,231.05 506.50,229.47 507.25,227.76 508.00,225.85 508.75,223.75 509.50,221.34 510.25,218.64 511.00,215.89 511.75,213.27 512.50,210.68 513.25,208.06 514.00,205.34 514.75,202.63 515.50,199.72 516.25,196.15 517.00,191.24 517.75,187.95 518.50,185.97 519.25,184.45 520.00,183.10 520.75,181.83 521.50,180.70 522.25,179.71 523.00,178.83 523.75,178.05 524.50,177.34 525.25,176.69 526.00,176.12 526.75,175.59 527.50,175.00 528.25,174.19 529.00,173.23 529.75,172.41 530.50,172.01 531.25,172.20 532.00,172.79 532.75,173.55 533.50,174.23 534.25,174.69 535.00,175.08 535.75,175.43 536.50,175.78 537.25,176.13 538.00,176.49 538.75,176.85 539.50,177.20 540.25,177.57 541.00,177.96 541.75,178.39 542.50,178.83 543.25,179.30 544.00,179.82 544.75,180.39 545.50,181.07 546.25,181.89 547.00,182.81 547.75,183.76 548.50,184.70 549.25,185.59 550.00,186.47 550.75,187.36 551.50,188.24 552.25,189.11 553.00,189.98 553.75,190.85 554.50,191.72 555.25,192.59 556.00,193.43 556.75,194.24 557.50,195.00 558.25,195.71 559.00,196.38 559.75,197.02 560.50,197.65 561.25,198.28 562.00,198.94 562.75,199.63 563.50,200.31 564.25,201.04 565.00,201.90 565.75,203.01 566.50,204.35 567.25,205.78 568.00,207.21 568.75,208.71 569.50,210.24 570.25,211.75 571.00,213.22 571.75,214.68 572.50,216.16 573.25,217.69 574.00,219.30 574.75,221.08 575.50,222.94 576.25,224.79 577.00,226.50 577.75,227.95 578.50,229.13 579.25,230.24 580.00,231.50 580.75,233.07 581.50,234.88 582.25,236.78 583.00,238.64 583.75,240.30 584.50,241.79 585.25,243.20 586.00,244.55 586.75,245.81 587.50,247.00 588.25,248.11 589.00,249.17 589.75,250.17 590.50,251.11 591.25,252.00 592.00,252.83 592.75,253.59 593.50,254.33 594.25,255.06 595.00,255.80 595.75,256.58 596.50,257.37 597.25,258.15 598.00,258.91 598.75,259.60 599.50,260.23 600.25,260.80 601.00,261.36 601.75,261.92 602.50,262.50 603.25,263.11 604.00,263.74 604.75,264.38 605.50,265.05 606.25,265.75 607.00,266.47 607.75,267.18 608.50,267.88 609.25,268.54 610.00,269.17 610.75,269.79 611.50,270.40 612.25,271.04 613.00,271.69 613.75,272.37 614.50,273.06 615.25,273.74 616.00,274.39 616.75,275.01 617.50,275.62 618.25,276.22 619.00,276.79 619.75,277.33 620.50,277.83 621.25,278.28 622.00,278.72 622.75,279.15 623.50,279.59 624.25,280.07 625.00,280.58 625.75,281.11 626.50,281.64 627.25,282.15 628.00,282.65 628.75,283.10 629.50,283.56 630.25,284.03 631.00,284.46 631.75,284.80 632.50,285.00 633.25,285.09 634.00,285.16 634.75,285.22 635.50,285.27 636.25,285.31 637.00,285.36 637.75,285.42 638.50,285.49 639.25,285.57 640.00,285.66 640.75,285.74 641.50,285.82 642.25,285.89 643.00,285.95 643.75,286.00 644.50,286.04 645.25,286.09 646.00,286.13 646.75,286.16 647.50,286.20 648.25,286.22 649.00,286.24 649.75,286.25 650.50,286.23 651.25,286.15 652.00,286.00 652.75,285.82 653.50,285.62 654.25,285.42 655.00,285.23 655.75,285.08 656.50,284.97 657.25,284.87 658.00,284.77 658.75,284.67 659.50,284.58 660.25,284.51 661.00,284.45 661.75,284.41 662.50,284.40 663.25,284.43 664.00,284.52 664.75,284.65 665.50,284.80 666.25,284.95 667.00,285.09 667.75,285.19 668.50,285.25 669.25,285.25 670.00,285.23 670.75,285.20 671.50,285.17 672.25,285.13 673.00,285.09 673.75,285.05 674.50,285.02 675.25,284.99 676.00,284.98 676.75,284.96 677.50,284.95 678.25,284.93 679.00,284.90 679.75,284.84 680.50,284.75 681.25,284.64 681.50,284.60" fill="none" stroke="#2b55e6" stroke-width="1.8" stroke-linejoin="round" stroke-linecap="round"/>
<defs><linearGradient id="gob" gradientUnits="userSpaceOnUse" x1="0" y1="372.5" x2="0" y2="400.9"><stop offset="0" stop-color="#4caf50" stop-opacity="0.62"/><stop offset="1" stop-color="#4caf50" stop-opacity="0.08"/></linearGradient><linearGradient id="gos" gradientUnits="userSpaceOnUse" x1="0" y1="464.1" x2="0" y2="487.8"><stop offset="0" stop-color="#ff5252" stop-opacity="0.04"/><stop offset="1" stop-color="#ff5252" stop-opacity="0.5"/></linearGradient><clipPath id="cob"><rect x="0" y="353.50" width="800" height="47.40"/></clipPath><clipPath id="cos"><rect x="0" y="464.10" width="800" height="47.40"/></clipPath></defs>
<polygon points="7.20,400.90 7.20,435.00 10.04,432.50 12.89,437.00 15.73,431.25 18.58,442.00 21.43,430.00 24.27,433.75 27.12,434.40 29.96,430.60 32.80,440.00 35.65,442.00 38.50,446.25 41.34,448.75 44.19,455.00 47.03,456.25 49.88,445.00 52.72,444.40 55.57,455.60 58.41,460.00 61.26,469.40 64.10,460.60 66.95,460.60 69.79,463.75 72.64,464.40 75.48,471.90 78.33,472.50 81.17,476.25 84.02,478.75 86.86,457.50 89.71,440.00 92.55,432.50 95.40,445.60 98.24,448.00 101.09,445.60 103.93,435.60 106.78,438.75 109.62,431.90 112.47,438.75 115.31,429.40 118.16,433.00 121.00,437.50 123.85,441.25 126.69,443.00 129.53,440.60 132.38,441.25 135.22,433.00 138.07,433.00 140.91,433.00 143.76,433.00 146.60,434.40 149.45,430.60 152.29,436.90 155.14,435.60 157.98,433.75 160.83,431.90 163.68,417.50 166.52,415.60 169.37,401.25 172.21,401.90 175.06,394.40 177.90,415.60 180.75,418.75 183.59,422.50 186.44,418.75 189.28,425.00 192.12,428.75 194.97,426.90 197.81,425.60 200.66,430.00 203.50,431.25 206.35,432.50 209.19,428.00 212.04,425.60 214.88,422.50 217.73,408.00 220.58,395.60 223.42,406.90 226.27,403.75 229.11,413.75 231.96,423.00 234.80,416.25 237.65,408.00 240.49,405.00 243.34,439.40 246.18,436.25 249.03,433.00 251.87,428.75 254.72,427.50 257.56,425.00 260.41,434.40 263.25,440.60 266.10,431.25 268.94,426.25 271.79,430.60 274.63,433.00 277.48,428.00 280.32,421.90 283.17,419.40 286.01,416.25 288.86,409.40 291.70,414.40 294.55,418.75 297.39,419.40 300.24,429.40 303.08,421.25 305.93,414.40 308.77,415.60 311.62,417.50 314.46,422.50 317.31,420.60 320.15,410.00 323.00,407.20 325.84,408.40 328.69,390.00 331.53,413.00 334.38,421.90 337.22,415.00 340.06,415.60 342.91,413.75 345.75,405.00 348.60,410.60 351.44,412.50 354.29,414.40 357.13,430.60 359.98,443.00 362.82,444.40 365.67,429.40 368.51,423.00 371.36,424.40 374.21,425.00 377.05,419.40 379.90,416.25 382.74,415.60 385.59,415.00 388.43,406.25 391.28,423.75 394.12,426.90 396.97,423.00 399.81,425.60 402.66,427.50 405.50,430.60 408.35,443.75 411.19,436.90 414.04,429.40 416.88,424.70 419.73,423.75 422.57,425.00 425.42,420.60 428.26,423.00 431.11,423.00 433.95,414.40 436.80,421.90 439.64,424.40 442.49,412.50 445.33,401.25 448.18,404.40 451.02,408.75 453.87,418.00 456.71,425.00 459.56,421.90 462.40,420.60 465.25,417.50 468.09,418.00 470.94,426.25 473.78,426.25 476.62,430.00 479.47,436.90 482.31,434.40 485.16,428.75 488.00,438.00 490.85,428.00 493.70,425.00 496.54,428.00 499.39,420.60 502.23,420.60 505.08,411.50 507.92,388.00 510.77,380.00 513.61,375.50 516.46,373.60 519.30,391.75 522.15,408.00 524.99,415.30 527.84,419.60 530.68,411.00 533.53,435.00 536.37,432.70 539.22,434.00 542.06,435.00 544.91,436.90 547.75,446.25 550.60,443.00 553.44,441.25 556.29,441.90 559.13,443.00 561.98,442.50 564.82,441.90 567.67,453.75 570.51,456.90 573.36,459.40 576.20,457.50 579.05,470.00 581.89,461.90 584.74,458.75 587.58,460.60 590.43,455.00 593.27,451.25 596.12,451.90 598.96,453.00 601.81,448.00 604.65,445.60 607.50,451.90 610.34,453.00 613.19,450.60 616.03,451.25 618.88,447.70 621.72,449.40 624.57,451.25 627.41,450.00 630.26,456.90 633.10,448.75 635.95,438.75 638.79,440.00 641.64,441.25 644.48,441.90 647.33,439.40 650.17,436.25 653.02,438.75 655.86,431.25 658.71,428.75 661.55,434.40 664.40,438.75 667.24,442.50 670.09,437.50 672.93,431.25 675.78,431.25 678.62,432.50 681.47,426.90 681.47,400.90" fill="url(#gob)" clip-path="url(#cob)"/>
<polygon points="7.20,464.10 7.20,435.00 10.04,432.50 12.89,437.00 15.73,431.25 18.58,442.00 21.43,430.00 24.27,433.75 27.12,434.40 29.96,430.60 32.80,440.00 35.65,442.00 38.50,446.25 41.34,448.75 44.19,455.00 47.03,456.25 49.88,445.00 52.72,444.40 55.57,455.60 58.41,460.00 61.26,469.40 64.10,460.60 66.95,460.60 69.79,463.75 72.64,464.40 75.48,471.90 78.33,472.50 81.17,476.25 84.02,478.75 86.86,457.50 89.71,440.00 92.55,432.50 95.40,445.60 98.24,448.00 101.09,445.60 103.93,435.60 106.78,438.75 109.62,431.90 112.47,438.75 115.31,429.40 118.16,433.00 121.00,437.50 123.85,441.25 126.69,443.00 129.53,440.60 132.38,441.25 135.22,433.00 138.07,433.00 140.91,433.00 143.76,433.00 146.60,434.40 149.45,430.60 152.29,436.90 155.14,435.60 157.98,433.75 160.83,431.90 163.68,417.50 166.52,415.60 169.37,401.25 172.21,401.90 175.06,394.40 177.90,415.60 180.75,418.75 183.59,422.50 186.44,418.75 189.28,425.00 192.12,428.75 194.97,426.90 197.81,425.60 200.66,430.00 203.50,431.25 206.35,432.50 209.19,428.00 212.04,425.60 214.88,422.50 217.73,408.00 220.58,395.60 223.42,406.90 226.27,403.75 229.11,413.75 231.96,423.00 234.80,416.25 237.65,408.00 240.49,405.00 243.34,439.40 246.18,436.25 249.03,433.00 251.87,428.75 254.72,427.50 257.56,425.00 260.41,434.40 263.25,440.60 266.10,431.25 268.94,426.25 271.79,430.60 274.63,433.00 277.48,428.00 280.32,421.90 283.17,419.40 286.01,416.25 288.86,409.40 291.70,414.40 294.55,418.75 297.39,419.40 300.24,429.40 303.08,421.25 305.93,414.40 308.77,415.60 311.62,417.50 314.46,422.50 317.31,420.60 320.15,410.00 323.00,407.20 325.84,408.40 328.69,390.00 331.53,413.00 334.38,421.90 337.22,415.00 340.06,415.60 342.91,413.75 345.75,405.00 348.60,410.60 351.44,412.50 354.29,414.40 357.13,430.60 359.98,443.00 362.82,444.40 365.67,429.40 368.51,423.00 371.36,424.40 374.21,425.00 377.05,419.40 379.90,416.25 382.74,415.60 385.59,415.00 388.43,406.25 391.28,423.75 394.12,426.90 396.97,423.00 399.81,425.60 402.66,427.50 405.50,430.60 408.35,443.75 411.19,436.90 414.04,429.40 416.88,424.70 419.73,423.75 422.57,425.00 425.42,420.60 428.26,423.00 431.11,423.00 433.95,414.40 436.80,421.90 439.64,424.40 442.49,412.50 445.33,401.25 448.18,404.40 451.02,408.75 453.87,418.00 456.71,425.00 459.56,421.90 462.40,420.60 465.25,417.50 468.09,418.00 470.94,426.25 473.78,426.25 476.62,430.00 479.47,436.90 482.31,434.40 485.16,428.75 488.00,438.00 490.85,428.00 493.70,425.00 496.54,428.00 499.39,420.60 502.23,420.60 505.08,411.50 507.92,388.00 510.77,380.00 513.61,375.50 516.46,373.60 519.30,391.75 522.15,408.00 524.99,415.30 527.84,419.60 530.68,411.00 533.53,435.00 536.37,432.70 539.22,434.00 542.06,435.00 544.91,436.90 547.75,446.25 550.60,443.00 553.44,441.25 556.29,441.90 559.13,443.00 561.98,442.50 564.82,441.90 567.67,453.75 570.51,456.90 573.36,459.40 576.20,457.50 579.05,470.00 581.89,461.90 584.74,458.75 587.58,460.60 590.43,455.00 593.27,451.25 596.12,451.90 598.96,453.00 601.81,448.00 604.65,445.60 607.50,451.90 610.34,453.00 613.19,450.60 616.03,451.25 618.88,447.70 621.72,449.40 624.57,451.25 627.41,450.00 630.26,456.90 633.10,448.75 635.95,438.75 638.79,440.00 641.64,441.25 644.48,441.90 647.33,439.40 650.17,436.25 653.02,438.75 655.86,431.25 658.71,428.75 661.55,434.40 664.40,438.75 667.24,442.50 670.09,437.50 672.93,431.25 675.78,431.25 678.62,432.50 681.47,426.90 681.47,464.10" fill="url(#gos)" clip-path="url(#cos)"/>
<line x1="5.5" y1="400.90" x2="755.5" y2="400.90" stroke="#b0b2be" stroke-width="1" stroke-dasharray="3.4 3.1"/>
<line x1="5.5" y1="432.50" x2="755.5" y2="432.50" stroke="#b0b2be" stroke-width="1" stroke-dasharray="3.4 3.1"/>
<line x1="5.5" y1="464.10" x2="755.5" y2="464.10" stroke="#b0b2be" stroke-width="1" stroke-dasharray="3.4 3.1"/>
<polyline points="6.00,424.40 6.75,424.40 7.50,424.40 8.25,424.40 9.00,424.40 9.75,424.40 10.50,424.40 11.25,424.40 12.00,424.40 12.75,424.40 13.50,424.47 14.25,424.60 15.00,424.79 15.75,425.01 16.50,425.26 17.25,425.52 18.00,425.77 18.75,426.00 19.50,426.22 20.25,426.45 21.00,426.68 21.75,426.92 22.50,427.17 23.25,427.44 24.00,427.71 24.75,428.00 25.50,428.31 26.25,428.64 27.00,429.00 27.75,429.37 28.50,429.76 29.25,430.16 30.00,430.56 30.75,430.98 31.50,431.39 32.25,431.82 33.00,432.27 33.75,432.74 34.50,433.21 35.25,433.68 36.00,434.14 36.75,434.58 37.50,435.00 38.25,435.40 39.00,435.78 39.75,436.16 40.50,436.52 41.25,436.88 42.00,437.25 42.75,437.61 43.50,437.98 44.25,438.35 45.00,438.72 45.75,439.09 46.50,439.45 47.25,439.82 48.00,440.20 48.75,440.58 49.50,440.98 50.25,441.39 51.00,441.81 51.75,442.24 52.50,442.67 53.25,443.12 54.00,443.58 54.75,444.04 55.50,444.52 56.25,445.00 57.00,445.50 57.75,446.01 58.50,446.53 59.25,447.07 60.00,447.61 60.75,448.15 61.50,448.69 62.25,449.22 63.00,449.75 63.75,450.28 64.50,450.82 65.25,451.35 66.00,451.88 66.75,452.41 67.50,452.92 68.25,453.42 69.00,453.91 69.75,454.38 70.50,454.84 71.25,455.29 72.00,455.73 72.75,456.17 73.50,456.61 74.25,457.05 75.00,457.50 75.75,457.97 76.50,458.46 77.25,458.96 78.00,459.45 78.75,459.93 79.50,460.38 80.25,460.79 81.00,461.15 81.75,461.45 82.50,461.76 83.25,462.06 84.00,462.35 84.75,462.61 85.50,462.83 86.25,462.99 87.00,463.08 87.75,463.10 88.50,463.08 89.25,463.04 90.00,462.98 90.75,462.91 91.50,462.82 92.25,462.72 93.00,462.61 93.75,462.50 94.50,462.35 95.25,462.13 96.00,461.87 96.75,461.56 97.50,461.22 98.25,460.86 99.00,460.49 99.75,460.12 100.50,459.75 101.25,459.36 102.00,458.95 102.75,458.51 103.50,458.06 104.25,457.58 105.00,457.09 105.75,456.59 106.50,456.08 107.25,455.54 108.00,454.99 108.75,454.41 109.50,453.81 110.25,453.19 111.00,452.56 111.75,451.91 112.50,451.25 113.25,450.56 114.00,449.83 114.75,449.07 115.50,448.30 116.25,447.52 117.00,446.74 117.75,445.98 118.50,445.24 119.25,444.51 120.00,443.75 120.75,442.97 121.50,442.19 122.25,441.45 123.00,440.76 123.75,440.16 124.50,439.66 125.25,439.29 126.00,438.98 126.75,438.71 127.50,438.47 128.25,438.25 129.00,438.05 129.75,437.86 130.50,437.68 131.25,437.50 132.00,437.31 132.75,437.11 133.50,436.92 134.25,436.73 135.00,436.56 135.75,436.42 136.50,436.31 137.25,436.26 138.00,436.24 138.75,436.24 139.50,436.23 140.25,436.23 141.00,436.22 141.75,436.22 142.50,436.21 143.25,436.21 144.00,436.20 144.75,436.18 145.50,436.15 146.25,436.12 147.00,436.07 147.75,436.03 148.50,435.97 149.25,435.91 150.00,435.84 150.75,435.77 151.50,435.70 152.25,435.63 153.00,435.54 153.75,435.44 154.50,435.32 155.25,435.18 156.00,435.03 156.75,434.86 157.50,434.69 158.25,434.52 159.00,434.34 159.75,434.16 160.50,433.97 161.25,433.76 162.00,433.54 162.75,433.31 163.50,433.06 164.25,432.79 165.00,432.50 165.75,432.17 166.50,431.78 167.25,431.35 168.00,430.89 168.75,430.41 169.50,429.91 170.25,429.41 171.00,428.91 171.75,428.42 172.50,427.90 173.25,427.36 174.00,426.81 174.75,426.25 175.50,425.71 176.25,425.19 177.00,424.70 177.75,424.25 178.50,423.82 179.25,423.40 180.00,422.99 180.75,422.60 181.50,422.22 182.25,421.87 183.00,421.55 183.75,421.25 184.50,420.98 185.25,420.73 186.00,420.49 186.75,420.26 187.50,420.05 188.25,419.84 189.00,419.65 189.75,419.46 190.50,419.27 191.25,419.07 192.00,418.86 192.75,418.66 193.50,418.47 194.25,418.31 195.00,418.19 195.75,418.11 196.50,418.10 197.25,418.10 198.00,418.10 198.75,418.10 199.50,418.10 200.25,418.10 201.00,418.10 201.75,418.10 202.50,418.10 203.25,418.15 204.00,418.27 204.75,418.47 205.50,418.71 206.25,418.99 207.00,419.29 207.75,419.60 208.50,419.90 209.25,420.22 210.00,420.62 210.75,421.10 211.50,421.60 212.25,422.08 213.00,422.51 213.75,422.85 214.50,423.06 215.25,423.10 216.00,423.05 216.75,422.95 217.50,422.82 218.25,422.65 219.00,422.47 219.75,422.28 220.50,422.08 221.25,421.90 222.00,421.71 222.75,421.50 223.50,421.28 224.25,421.04 225.00,420.79 225.75,420.55 226.50,420.31 227.25,420.07 228.00,419.85 228.75,419.62 229.50,419.38 230.25,419.14 231.00,418.91 231.75,418.69 232.50,418.49 233.25,418.31 234.00,418.15 234.75,418.00 235.50,417.84 236.25,417.69 237.00,417.54 237.75,417.40 238.50,417.27 239.25,417.15 240.00,417.06 240.75,416.98 241.50,416.93 242.25,416.90 243.00,416.90 243.75,416.91 244.50,416.91 245.25,416.92 246.00,416.94 246.75,416.95 247.50,416.97 248.25,416.99 249.00,417.01 249.75,417.03 250.50,417.07 251.25,417.12 252.00,417.17 252.75,417.24 253.50,417.32 254.25,417.40 255.00,417.50 255.75,417.66 256.50,417.91 257.25,418.24 258.00,418.63 258.75,419.07 259.50,419.53 260.25,420.00 261.00,420.45 261.75,420.90 262.50,421.39 263.25,421.92 264.00,422.47 264.75,423.03 265.50,423.59 266.25,424.14 267.00,424.67 267.75,425.16 268.50,425.65 269.25,426.14 270.00,426.62 270.75,427.08 271.50,427.54 272.25,427.97 273.00,428.37 273.75,428.75 274.50,429.13 275.25,429.53 276.00,429.93 276.75,430.31 277.50,430.66 278.25,430.94 279.00,431.14 279.75,431.24 280.50,431.23 281.25,431.12 282.00,430.93 282.75,430.69 283.50,430.42 284.25,430.12 285.00,429.83 285.75,429.56 286.50,429.32 287.25,429.10 288.00,428.87 288.75,428.64 289.50,428.42 290.25,428.19 291.00,427.96 291.75,427.73 292.50,427.50 293.25,427.27 294.00,427.04 294.75,426.81 295.50,426.58 296.25,426.36 297.00,426.13 297.75,425.90 298.50,425.68 299.25,425.45 300.00,425.24 300.75,425.02 301.50,424.81 302.25,424.60 303.00,424.38 303.75,424.15 304.50,423.92 305.25,423.66 306.00,423.39 306.75,423.10 307.50,422.80 308.25,422.49 309.00,422.18 309.75,421.87 310.50,421.55 311.25,421.25 312.00,420.95 312.75,420.64 313.50,420.34 314.25,420.03 315.00,419.73 315.75,419.43 316.50,419.14 317.25,418.85 318.00,418.56 318.75,418.27 319.50,417.98 320.25,417.70 321.00,417.42 321.75,417.15 322.50,416.89 323.25,416.65 324.00,416.43 324.75,416.22 325.50,416.03 326.25,415.85 327.00,415.68 327.75,415.51 328.50,415.34 329.25,415.18 330.00,415.01 330.75,414.84 331.50,414.66 332.25,414.47 333.00,414.26 333.75,414.05 334.50,413.82 335.25,413.59 336.00,413.36 336.75,413.12 337.50,412.89 338.25,412.65 339.00,412.42 339.75,412.19 340.50,411.94 341.25,411.70 342.00,411.46 342.75,411.22 343.50,411.00 344.25,410.79 345.00,410.60 345.75,410.42 346.50,410.22 347.25,410.03 348.00,409.85 348.75,409.68 349.50,409.55 350.25,409.45 351.00,409.40 351.75,409.43 352.50,409.56 353.25,409.78 354.00,410.08 354.75,410.44 355.50,410.83 356.25,411.23 357.00,411.64 357.75,412.03 358.50,412.47 359.25,412.97 360.00,413.50 360.75,414.06 361.50,414.63 362.25,415.20 363.00,415.74 363.75,416.25 364.50,416.74 365.25,417.22 366.00,417.70 366.75,418.18 367.50,418.63 368.25,419.07 369.00,419.49 369.75,419.88 370.50,420.24 371.25,420.61 372.00,420.98 372.75,421.34 373.50,421.67 374.25,421.96 375.00,422.21 375.75,422.41 376.50,422.54 377.25,422.65 378.00,422.76 378.75,422.85 379.50,422.93 380.25,423.00 381.00,423.06 381.75,423.09 382.50,423.10 383.25,423.10 384.00,423.10 384.75,423.10 385.50,423.10 386.25,423.10 387.00,423.10 387.75,423.10 388.50,423.10 389.25,423.09 390.00,423.06 390.75,423.01 391.50,422.94 392.25,422.86 393.00,422.76 393.75,422.67 394.50,422.57 395.25,422.46 396.00,422.32 396.75,422.14 397.50,421.94 398.25,421.74 399.00,421.55 399.75,421.40 400.50,421.29 401.25,421.25 402.00,421.28 402.75,421.37 403.50,421.49 404.25,421.66 405.00,421.84 405.75,422.04 406.50,422.24 407.25,422.44 408.00,422.63 408.75,422.84 409.50,423.08 410.25,423.33 411.00,423.58 411.75,423.83 412.50,424.06 413.25,424.27 414.00,424.46 414.75,424.63 415.50,424.78 416.25,424.93 417.00,425.08 417.75,425.21 418.50,425.34 419.25,425.47 420.00,425.60 420.75,425.73 421.50,425.88 422.25,426.02 423.00,426.17 423.75,426.32 424.50,426.46 425.25,426.58 426.00,426.70 426.75,426.79 427.50,426.85 428.25,426.89 429.00,426.90 429.75,426.87 430.50,426.82 431.25,426.75 432.00,426.67 432.75,426.57 433.50,426.46 434.25,426.36 435.00,426.25 435.75,426.15 436.50,426.04 437.25,425.92 438.00,425.78 438.75,425.64 439.50,425.47 440.25,425.29 441.00,425.08 441.75,424.81 442.50,424.40 443.25,423.87 444.00,423.27 444.75,422.63 445.50,422.00 446.25,421.40 447.00,420.88 447.75,420.47 448.50,420.09 449.25,419.71 450.00,419.35 450.75,419.02 451.50,418.72 452.25,418.46 453.00,418.25 453.75,418.10 454.50,417.99 455.25,417.88 456.00,417.78 456.75,417.69 457.50,417.62 458.25,417.56 459.00,417.52 459.75,417.50 460.50,417.50 461.25,417.50 462.00,417.50 462.75,417.50 463.50,417.50 464.25,417.50 465.00,417.50 465.75,417.50 466.50,417.50 467.25,417.50 468.00,417.50 468.75,417.50 469.50,417.50 470.25,417.50 471.00,417.50 471.75,417.50 472.50,417.50 473.25,417.55 474.00,417.68 474.75,417.88 475.50,418.13 476.25,418.42 477.00,418.72 477.75,419.03 478.50,419.31 479.25,419.58 480.00,419.85 480.75,420.13 481.50,420.42 482.25,420.73 483.00,421.04 483.75,421.35 484.50,421.68 485.25,422.01 486.00,422.37 486.75,422.75 487.50,423.14 488.25,423.53 489.00,423.92 489.75,424.31 490.50,424.67 491.25,425.00 492.00,425.34 492.75,425.70 493.50,426.07 494.25,426.42 495.00,426.74 495.75,427.01 496.50,427.20 497.25,427.29 498.00,427.29 498.75,427.23 499.50,427.13 500.25,426.99 501.00,426.82 501.75,426.62 502.50,426.40 503.25,426.16 504.00,425.91 504.75,425.54 505.50,425.06 506.25,424.49 507.00,423.86 507.75,423.22 508.50,422.55 509.25,421.80 510.00,420.99 510.75,420.13 511.50,419.23 512.25,418.31 513.00,417.36 513.75,416.31 514.50,415.19 515.25,414.04 516.00,412.89 516.75,411.77 517.50,410.73 518.25,409.79 519.00,408.99 519.75,408.21 520.50,407.43 521.25,406.68 522.00,405.99 522.75,405.37 523.50,404.86 524.25,404.47 525.00,404.25 525.75,404.12 526.50,404.00 527.25,403.89 528.00,403.80 528.75,403.72 529.50,403.66 530.25,403.62 531.00,403.60 531.75,403.62 532.50,403.72 533.25,403.90 534.00,404.13 534.75,404.40 535.50,404.70 536.25,405.00 537.00,405.31 537.75,405.59 538.50,405.87 539.25,406.16 540.00,406.46 540.75,406.79 541.50,407.15 542.25,407.55 543.00,408.00 543.75,408.50 544.50,409.14 545.25,409.97 546.00,410.93 546.75,412.00 547.50,413.12 548.25,414.26 549.00,415.37 549.75,416.58 550.50,417.86 551.25,419.16 552.00,420.44 552.75,421.64 553.50,422.81 554.25,423.96 555.00,425.08 555.75,426.18 556.50,427.26 557.25,428.34 558.00,429.41 558.75,430.44 559.50,431.40 560.25,432.28 561.00,433.11 561.75,433.89 562.50,434.64 563.25,435.35 564.00,436.03 564.75,436.69 565.50,437.31 566.25,437.90 567.00,438.45 567.75,438.99 568.50,439.52 569.25,440.05 570.00,440.60 570.75,441.17 571.50,441.74 572.25,442.32 573.00,442.90 573.75,443.47 574.50,444.03 575.25,444.58 576.00,445.13 576.75,445.67 577.50,446.20 578.25,446.73 579.00,447.25 579.75,447.76 580.50,448.26 581.25,448.75 582.00,449.24 582.75,449.72 583.50,450.20 584.25,450.68 585.00,451.13 585.75,451.57 586.50,451.99 587.25,452.38 588.00,452.74 588.75,453.09 589.50,453.43 590.25,453.76 591.00,454.07 591.75,454.36 592.50,454.62 593.25,454.86 594.00,455.07 594.75,455.27 595.50,455.48 596.25,455.68 597.00,455.86 597.75,456.02 598.50,456.14 599.25,456.22 600.00,456.25 600.75,456.25 601.50,456.25 602.25,456.25 603.00,456.25 603.75,456.25 604.50,456.25 605.25,456.25 606.00,456.25 606.75,456.23 607.50,456.16 608.25,456.03 609.00,455.87 609.75,455.69 610.50,455.49 611.25,455.29 612.00,455.11 612.75,454.95 613.50,454.80 614.25,454.65 615.00,454.50 615.75,454.35 616.50,454.20 617.25,454.05 618.00,453.90 618.75,453.75 619.50,453.60 620.25,453.45 621.00,453.30 621.75,453.15 622.50,453.00 623.25,452.85 624.00,452.70 624.75,452.55 625.50,452.40 626.25,452.26 627.00,452.12 627.75,451.98 628.50,451.83 629.25,451.69 630.00,451.53 630.75,451.37 631.50,451.19 632.25,450.99 633.00,450.79 633.75,450.56 634.50,450.33 635.25,450.10 636.00,449.86 636.75,449.63 637.50,449.40 638.25,449.17 639.00,448.95 639.75,448.72 640.50,448.49 641.25,448.26 642.00,448.03 642.75,447.80 643.50,447.58 644.25,447.35 645.00,447.13 645.75,446.91 646.50,446.69 647.25,446.47 648.00,446.25 648.75,446.01 649.50,445.77 650.25,445.51 651.00,445.24 651.75,444.95 652.50,444.65 653.25,444.34 654.00,444.03 654.75,443.71 655.50,443.40 656.25,443.10 657.00,442.79 657.75,442.46 658.50,442.13 659.25,441.79 660.00,441.47 660.75,441.17 661.50,440.90 662.25,440.67 663.00,440.48 663.75,440.31 664.50,440.17 665.25,440.04 666.00,439.92 666.75,439.79 667.50,439.66 668.25,439.51 669.00,439.34 669.75,439.15 670.50,438.94 671.25,438.71 672.00,438.48 672.75,438.23 673.50,437.99 674.25,437.74 675.00,437.50 675.75,437.26 676.50,437.01 677.25,436.76 678.00,436.51 678.75,436.26 679.50,436.00 680.25,435.74 681.00,435.48 681.50,435.30" fill="none" stroke="#f6e5a4" stroke-width="1.1" stroke-linejoin="round"/>
<polyline points="7.20,435.00 10.04,432.50 12.89,437.00 15.73,431.25 18.58,442.00 21.43,430.00 24.27,433.75 27.12,434.40 29.96,430.60 32.80,440.00 35.65,442.00 38.50,446.25 41.34,448.75 44.19,455.00 47.03,456.25 49.88,445.00 52.72,444.40 55.57,455.60 58.41,460.00 61.26,469.40 64.10,460.60 66.95,460.60 69.79,463.75 72.64,464.40 75.48,471.90 78.33,472.50 81.17,476.25 84.02,478.75 86.86,457.50 89.71,440.00 92.55,432.50 95.40,445.60 98.24,448.00 101.09,445.60 103.93,435.60 106.78,438.75 109.62,431.90 112.47,438.75 115.31,429.40 118.16,433.00 121.00,437.50 123.85,441.25 126.69,443.00 129.53,440.60 132.38,441.25 135.22,433.00 138.07,433.00 140.91,433.00 143.76,433.00 146.60,434.40 149.45,430.60 152.29,436.90 155.14,435.60 157.98,433.75 160.83,431.90 163.68,417.50 166.52,415.60 169.37,401.25 172.21,401.90 175.06,394.40 177.90,415.60 180.75,418.75 183.59,422.50 186.44,418.75 189.28,425.00 192.12,428.75 194.97,426.90 197.81,425.60 200.66,430.00 203.50,431.25 206.35,432.50 209.19,428.00 212.04,425.60 214.88,422.50 217.73,408.00 220.58,395.60 223.42,406.90 226.27,403.75 229.11,413.75 231.96,423.00 234.80,416.25 237.65,408.00 240.49,405.00 243.34,439.40 246.18,436.25 249.03,433.00 251.87,428.75 254.72,427.50 257.56,425.00 260.41,434.40 263.25,440.60 266.10,431.25 268.94,426.25 271.79,430.60 274.63,433.00 277.48,428.00 280.32,421.90 283.17,419.40 286.01,416.25 288.86,409.40 291.70,414.40 294.55,418.75 297.39,419.40 300.24,429.40 303.08,421.25 305.93,414.40 308.77,415.60 311.62,417.50 314.46,422.50 317.31,420.60 320.15,410.00 323.00,407.20 325.84,408.40 328.69,390.00 331.53,413.00 334.38,421.90 337.22,415.00 340.06,415.60 342.91,413.75 345.75,405.00 348.60,410.60 351.44,412.50 354.29,414.40 357.13,430.60 359.98,443.00 362.82,444.40 365.67,429.40 368.51,423.00 371.36,424.40 374.21,425.00 377.05,419.40 379.90,416.25 382.74,415.60 385.59,415.00 388.43,406.25 391.28,423.75 394.12,426.90 396.97,423.00 399.81,425.60 402.66,427.50 405.50,430.60 408.35,443.75 411.19,436.90 414.04,429.40 416.88,424.70 419.73,423.75 422.57,425.00 425.42,420.60 428.26,423.00 431.11,423.00 433.95,414.40 436.80,421.90 439.64,424.40 442.49,412.50 445.33,401.25 448.18,404.40 451.02,408.75 453.87,418.00 456.71,425.00 459.56,421.90 462.40,420.60 465.25,417.50 468.09,418.00 470.94,426.25 473.78,426.25 476.62,430.00 479.47,436.90 482.31,434.40 485.16,428.75 488.00,438.00 490.85,428.00 493.70,425.00 496.54,428.00 499.39,420.60 502.23,420.60 505.08,411.50 507.92,388.00 510.77,380.00 513.61,375.50 516.46,373.60 519.30,391.75 522.15,408.00 524.99,415.30 527.84,419.60 530.68,411.00 533.53,435.00 536.37,432.70 539.22,434.00 542.06,435.00 544.91,436.90 547.75,446.25 550.60,443.00 553.44,441.25 556.29,441.90 559.13,443.00 561.98,442.50 564.82,441.90 567.67,453.75 570.51,456.90 573.36,459.40 576.20,457.50 579.05,470.00 581.89,461.90 584.74,458.75 587.58,460.60 590.43,455.00 593.27,451.25 596.12,451.90 598.96,453.00 601.81,448.00 604.65,445.60 607.50,451.90 610.34,453.00 613.19,450.60 616.03,451.25 618.88,447.70 621.72,449.40 624.57,451.25 627.41,450.00 630.26,456.90 633.10,448.75 635.95,438.75 638.79,440.00 641.64,441.25 644.48,441.90 647.33,439.40 650.17,436.25 653.02,438.75 655.86,431.25 658.71,428.75 661.55,434.40 664.40,438.75 667.24,442.50 670.09,437.50 672.93,431.25 675.78,431.25 678.62,432.50 681.47,426.90" fill="none" stroke="#6b4cbc" stroke-width="1.65" stroke-linejoin="round" stroke-linecap="round"/>
<rect x="5.5" y="15.5" width="788.5" height="485.5" fill="none" stroke="#e7e9ee" stroke-width="1"/>
<line x1="755.5" y1="15.5" x2="755.5" y2="501" stroke="#e7e9ee" stroke-width="1"/>
<line x1="5.5" y1="367.0" x2="794" y2="367.0" stroke="#e7e9ee" stroke-width="1.2"/>
<line x1="5.5" y1="485.5" x2="794" y2="485.5" stroke="#e7e9ee" stroke-width="1"/>
<rect x="758" y="17" width="33.3" height="16.3" rx="2" fill="#fff" stroke="#e7e9ee" stroke-width="1"/>
<g transform="translate(681.5,359.9)"><circle r="6" fill="#fff" stroke="#a03fb4" stroke-width="1"/><path d="M1.2,-3.6 L-2.4,0.6 L-0.2,0.6 L-1.2,3.6 L2.4,-0.6 L0.2,-0.6 Z" fill="#5b3fc4"/><circle cx="4.2" cy="-4.2" r="1.9" fill="#fff"/><circle cx="4.2" cy="-4.2" r="1.3" fill="#d6335a"/></g>
<g fill="#131722" transform="translate(0,0.3)"><path d="M7,514.4 H13.9 V522.7 H10.8 V517.2 H7 Z"/><circle cx="15.9" cy="515.8" r="1.45"/><path d="M18.6,514.4 H24.5 L20.6,522.7 H17.2 Z" transform="translate(0,0)"/></g>
</svg>
<div class="t" style="left:6.00px;top:4.82px;font-size:7.3px;line-height:8.76px;color:#1e222d;font-weight:400;transform:scaleX(0.9637);">ranadagger created with TradingView.com, Mar 13, 2026 14:14 UTC</div>
<div class="t" style="left:10.50px;top:19.80px;font-size:8px;line-height:9.60px;color:#131722;font-weight:400;transform:scaleX(0.8867);">Monero / Tether · 1D · KuCoin</div>
<div class="t" style="left:109.50px;top:19.80px;font-size:8px;line-height:9.60px;color:#131722;font-weight:400;transform:scaleX(0.8500);">O<span style="color:#22a497">350.74</span></div>
<div class="t" style="left:139.50px;top:19.80px;font-size:8px;line-height:9.60px;color:#131722;font-weight:400;transform:scaleX(0.8500);">H<span style="color:#22a497">362.85</span></div>
<div class="t" style="left:170.00px;top:19.80px;font-size:8px;line-height:9.60px;color:#131722;font-weight:400;transform:scaleX(0.8500);">L<span style="color:#22a497">349.91</span></div>
<div class="t" style="left:198.70px;top:19.80px;font-size:8px;line-height:9.60px;color:#131722;font-weight:400;transform:scaleX(0.8500);">C<span style="color:#22a497">360.57</span></div>
<div class="t" style="left:228.00px;top:19.80px;font-size:8px;line-height:9.60px;color:#22a497;font-weight:400;transform:scaleX(0.8287);">+9.91 (+2.83%)</div>
<div class="t" style="left:10.50px;top:29.60px;font-size:8px;line-height:9.60px;color:#131722;font-weight:400;transform:scaleX(0.8368);">EMA (20, close)</div>
<div class="t" style="left:63.75px;top:29.60px;font-size:8px;line-height:9.60px;color:#2962ff;font-weight:400;transform:scaleX(0.8276);">348.47</div>
<div class="t" style="left:10.50px;top:39.50px;font-size:8px;line-height:9.60px;color:#131722;font-weight:400;transform:scaleX(0.8368);">SMA (50, close)</div>
<div class="t" style="left:63.75px;top:39.50px;font-size:8px;line-height:9.60px;color:#f23645;font-weight:400;transform:scaleX(0.8276);">366.34</div>
<div class="t" style="left:10.50px;top:372.40px;font-size:8px;line-height:9.60px;color:#131722;font-weight:400;transform:scaleX(0.8316);">RSI (14, close)</div>
<div class="t" style="left:60.00px;top:372.40px;font-size:8px;line-height:9.60px;color:#7e57c2;font-weight:400;transform:scaleX(0.8492);">53.54</div>
<div class="t" style="left:82.00px;top:372.40px;font-size:8px;line-height:9.60px;color:#f2d04a;font-weight:400;transform:scaleX(0.8392);">48.21</div>
<div class="t" style="left:761.00px;top:50.80px;font-size:8px;line-height:9.60px;color:#131722;font-weight:400;transform:scaleX(0.8500);">760.00</div>
<div class="t" style="left:761.00px;top:73.10px;font-size:8px;line-height:9.60px;color:#131722;font-weight:400;transform:scaleX(0.8500);">720.00</div>
<div class="t" style="left:761.00px;top:95.40px;font-size:8px;line-height:9.60px;color:#131722;font-weight:400;transform:scaleX(0.8500);">680.00</div>
<div class="t" style="left:761.00px;top:117.70px;font-size:8px;line-height:9.60px;color:#131722;font-weight:400;transform:scaleX(0.8500);">640.00</div>
<div class="t" style="left:761.00px;top:140.00px;font-size:8px;line-height:9.60px;color:#131722;font-weight:400;transform:scaleX(0.8500);">600.00</div>
<div class="t" style="left:761.00px;top:162.30px;font-size:8px;line-height:9.60px;color:#131722;font-weight:400;transform:scaleX(0.8500);">560.00</div>
<div class="t" style="left:761.00px;top:184.60px;font-size:8px;line-height:9.60px;color:#131722;font-weight:400;transform:scaleX(0.8500);">520.00</div>
<div class="t" style="left:761.00px;top:206.90px;font-size:8px;line-height:9.60px;color:#131722;font-weight:400;transform:scaleX(0.8500);">480.00</div>
<div class="t" style="left:761.00px;top:229.20px;font-size:8px;line-height:9.60px;color:#131722;font-weight:400;transform:scaleX(0.8500);">440.00</div>
<div class="t" style="left:761.00px;top:251.50px;font-size:8px;line-height:9.60px;color:#131722;font-weight:400;transform:scaleX(0.8500);">400.00</div>
<div class="t" style="left:761.00px;top:340.70px;font-size:8px;line-height:9.60px;color:#131722;font-weight:400;transform:scaleX(0.8500);">240.00</div>
<div class="t" style="left:761.00px;top:380.60px;font-size:8px;line-height:9.60px;color:#131722;font-weight:400;transform:scaleX(0.8492);">80.00</div>
<div class="t" style="left:761.00px;top:412.20px;font-size:8px;line-height:9.60px;color:#131722;font-weight:400;transform:scaleX(0.8492);">60.00</div>
<div class="t" style="left:761.00px;top:443.80px;font-size:8px;line-height:9.60px;color:#131722;font-weight:400;transform:scaleX(0.8492);">40.00</div>
<div class="t" style="left:761.00px;top:475.40px;font-size:8px;line-height:9.60px;color:#131722;font-weight:400;transform:scaleX(0.8492);">20.00</div>
<div class="t" style="left:763.10px;top:21.24px;font-size:8.6px;line-height:10.32px;color:#131722;font-weight:400;transform:scaleX(0.7091);">USDT</div>
<div class="t" style="left:38.38px;top:488.60px;font-size:8px;line-height:9.60px;color:#131722;font-weight:400;transform:scaleX(0.8300);">Aug</div>
<div class="t" style="left:126.57px;top:488.60px;font-size:8px;line-height:9.60px;color:#131722;font-weight:400;transform:scaleX(0.8300);">Sep</div>
<div class="t" style="left:212.67px;top:488.60px;font-size:8px;line-height:9.60px;color:#131722;font-weight:400;transform:scaleX(0.8300);">Oct</div>
<div class="t" style="left:300.12px;top:488.60px;font-size:8px;line-height:9.60px;color:#131722;font-weight:400;transform:scaleX(0.8300);">Nov</div>
<div class="t" style="left:385.47px;top:488.60px;font-size:8px;line-height:9.60px;color:#131722;font-weight:400;transform:scaleX(0.8300);">Dec</div>
<div class="t" style="left:472.18px;top:488.60px;font-size:8px;line-height:9.60px;color:#131722;font-weight:700;transform:scaleX(0.8300);">2026</div>
<div class="t" style="left:562.04px;top:488.60px;font-size:8px;line-height:9.60px;color:#131722;font-weight:400;transform:scaleX(0.8300);">Feb</div>
<div class="t" style="left:641.71px;top:488.60px;font-size:8px;line-height:9.60px;color:#131722;font-weight:400;transform:scaleX(0.8300);">Mar</div>
<div class="t" style="left:730.45px;top:488.60px;font-size:8px;line-height:9.60px;color:#131722;font-weight:400;transform:scaleX(0.8300);">Apr</div>
<div class="lb" style="left:726px;top:263.7px;width:29.30px;height:8.90px;background:#e8344e;"></div>
<div class="t" style="left:728.80px;top:263.55px;font-size:8px;line-height:9.60px;color:#fff;font-weight:400;transform:scaleX(0.7605);">SMA:MA</div>
<div class="lb" style="left:756px;top:263.7px;width:28.00px;height:8.90px;background:#e8344e;"></div>
<div class="t" style="left:760.30px;top:263.55px;font-size:8px;line-height:9.60px;color:#fff;font-weight:400;transform:scaleX(0.8705);">366.34</div>
<div class="lb" style="left:720.4px;top:273px;width:34.90px;height:9.20px;background:#22a497;"></div>
<div class="t" style="left:723.50px;top:273.00px;font-size:8px;line-height:9.60px;color:#fff;font-weight:400;transform:scaleX(0.7281);">XMRUSDT</div>
<div class="lb" style="left:756px;top:273px;width:35.00px;height:26.20px;background:#22a497;"></div>
<div class="t" style="left:760.30px;top:273.00px;font-size:8px;line-height:9.60px;color:#fff;font-weight:400;transform:scaleX(0.8705);">360.57</div>
<div class="t" style="left:760.60px;top:281.60px;font-size:8px;line-height:9.60px;color:#fff;font-weight:400;transform:scaleX(0.7986);">+12.12%</div>
<div class="t" style="left:760.60px;top:289.80px;font-size:8px;line-height:9.60px;color:#fff;font-weight:400;transform:scaleX(0.8799);">09:45:25</div>
<div class="lb" style="left:756px;top:299.2px;width:28.00px;height:10.10px;background:#1414f0;"></div>
<div class="t" style="left:760.30px;top:299.65px;font-size:8px;line-height:9.60px;color:#fff;font-weight:400;transform:scaleX(0.8705);">360.00</div>
<div class="lb" style="left:737.3px;top:309.3px;width:18.00px;height:9.70px;background:#2f62f2;"></div>
<div class="t" style="left:740.20px;top:309.55px;font-size:8px;line-height:9.60px;color:#fff;font-weight:400;transform:scaleX(0.7268);">EMA</div>
<div class="lb" style="left:756px;top:309.3px;width:28.00px;height:9.70px;background:#2f62f2;"></div>
<div class="t" style="left:760.30px;top:309.55px;font-size:8px;line-height:9.60px;color:#fff;font-weight:400;transform:scaleX(0.8705);">348.47</div>
<div class="lb" style="left:756px;top:319px;width:28.00px;height:9.60px;background:#1414f0;"></div>
<div class="t" style="left:760.30px;top:319.20px;font-size:8px;line-height:9.60px;color:#fff;font-weight:400;transform:scaleX(0.8705);">309.00</div>
<div class="lb" style="left:741.3px;top:421.9px;width:14.30px;height:9.70px;background:#7650c4;"></div>
<div class="t" style="left:743.75px;top:422.15px;font-size:8px;line-height:9.60px;color:#fff;font-weight:400;transform:scaleX(0.7011);">RSI</div>
<div class="lb" style="left:756.2px;top:421.9px;width:24.80px;height:9.70px;background:#7650c4;"></div>
<div class="t" style="left:761.25px;top:422.15px;font-size:8px;line-height:9.60px;color:#fff;font-weight:400;transform:scaleX(0.8417);">53.54</div>
<div class="lb" style="left:709px;top:431.6px;width:46.60px;height:9.70px;background:#fcd535;"></div>
<div class="t" style="left:711.90px;top:431.85px;font-size:8px;line-height:9.60px;color:#131722;font-weight:400;transform:scaleX(0.7920);">RSI-based MA</div>
<div class="lb" style="left:756.2px;top:431.6px;width:24.80px;height:9.70px;background:#fcd535;"></div>
<div class="t" style="left:761.25px;top:431.85px;font-size:8px;line-height:9.60px;color:#131722;font-weight:400;transform:scaleX(0.8417);">48.21</div>
<div class="t" style="left:28.20px;top:511.74px;font-size:12.6px;line-height:15.12px;color:#131722;font-weight:700;transform:scaleX(0.9609);-webkit-text-stroke:0;">TradingView</div>
</body></html>
